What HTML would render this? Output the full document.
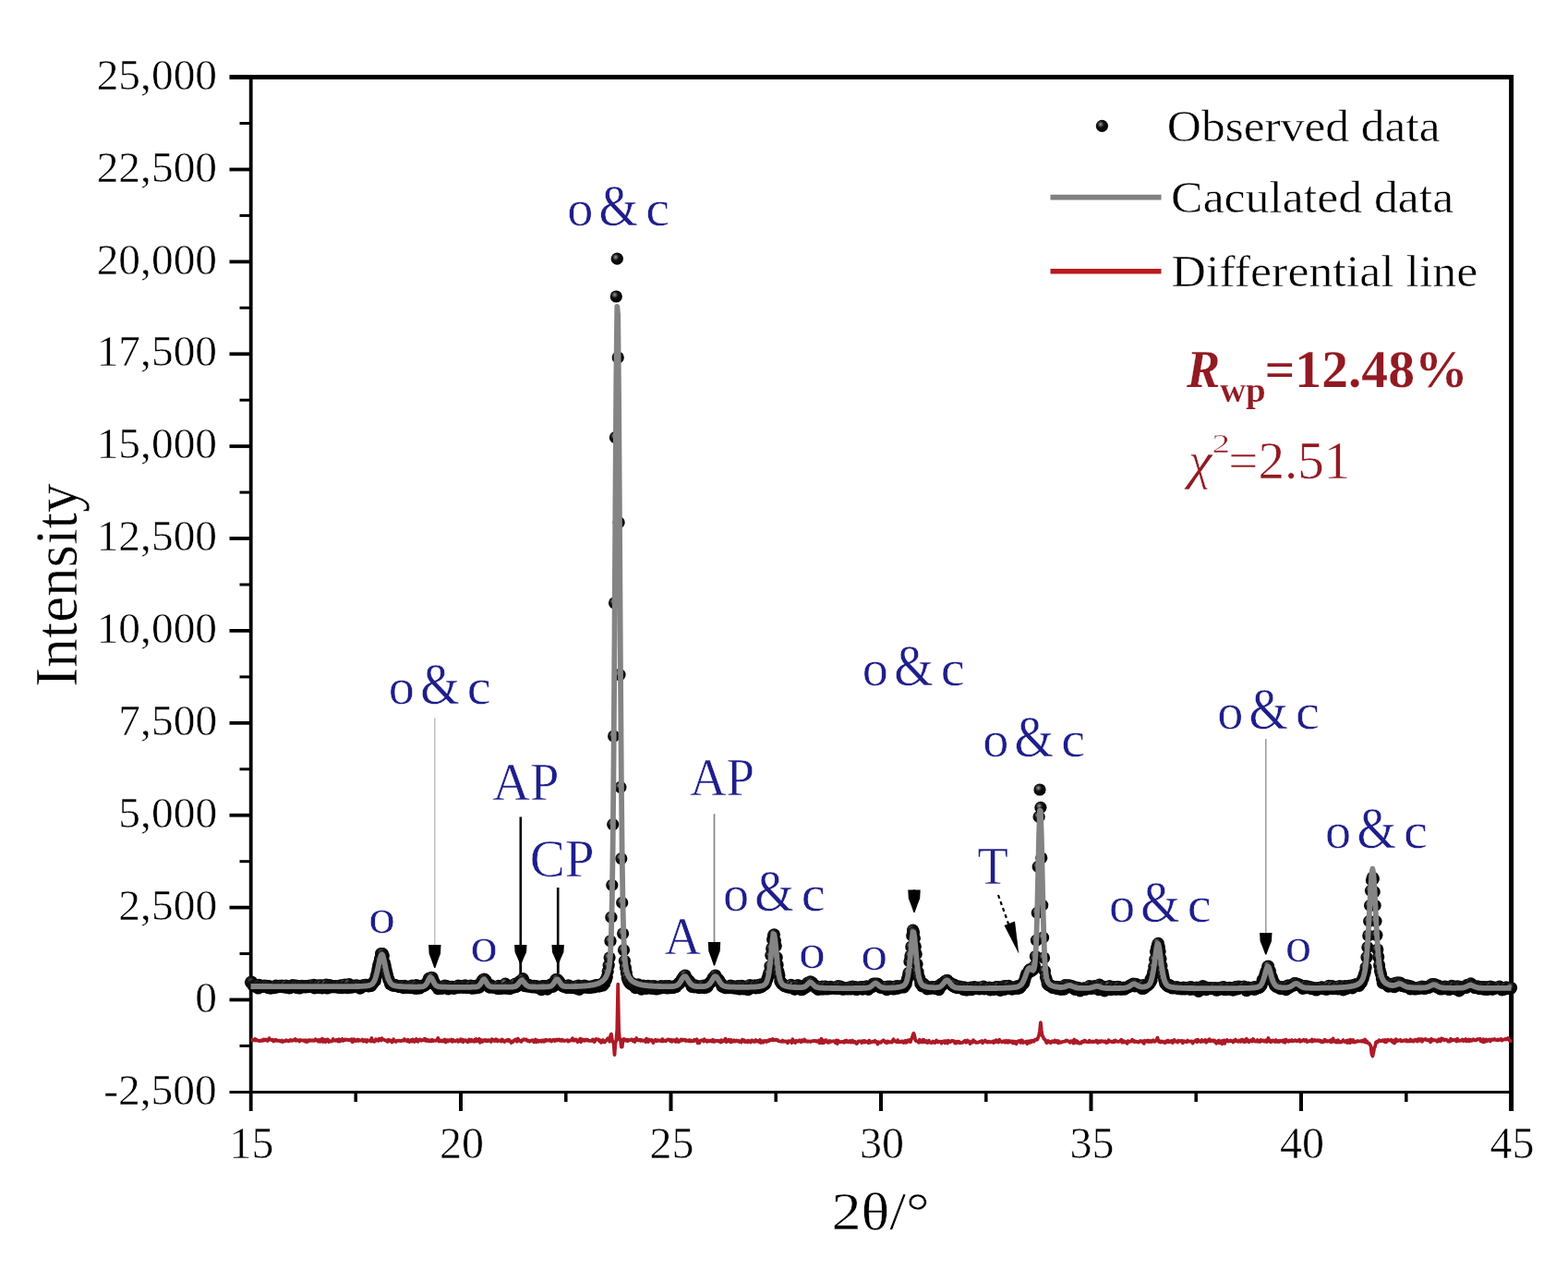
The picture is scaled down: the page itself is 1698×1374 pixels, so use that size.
<!DOCTYPE html>
<html><head><meta charset="utf-8"><title>XRD Rietveld refinement plot</title>
<style>html,body{margin:0;padding:0;background:#fff}svg{display:block}</style></head>
<body>
<div id="w">
<svg width="1698" height="1374" viewBox="0 0 1698 1374">
<rect width="1698" height="1374" fill="#fff"/>
<g stroke="#000" fill="none">
<line x1="271.7" y1="81.3" x2="271.7" y2="1203" stroke-width="3.8"/>
<line x1="1636.6" y1="81.3" x2="1636.6" y2="1203" stroke-width="5"/>
<line x1="248.5" y1="83.6" x2="1639.0" y2="83.6" stroke-width="5"/>
<line x1="248.5" y1="1182.4" x2="1636.5" y2="1182.4" stroke-width="3"/>
<line x1="259.5" y1="1132.4" x2="271.5" y2="1132.4" stroke-width="3"/>
<line x1="248.5" y1="1082.5" x2="271.5" y2="1082.5" stroke-width="3.8"/>
<line x1="259.5" y1="1032.6" x2="271.5" y2="1032.6" stroke-width="3"/>
<line x1="248.5" y1="982.6" x2="271.5" y2="982.6" stroke-width="3.8"/>
<line x1="259.5" y1="932.7" x2="271.5" y2="932.7" stroke-width="3"/>
<line x1="248.5" y1="882.7" x2="271.5" y2="882.7" stroke-width="3.8"/>
<line x1="259.5" y1="832.8" x2="271.5" y2="832.8" stroke-width="3"/>
<line x1="248.5" y1="782.8" x2="271.5" y2="782.8" stroke-width="3.8"/>
<line x1="259.5" y1="732.9" x2="271.5" y2="732.9" stroke-width="3"/>
<line x1="248.5" y1="682.9" x2="271.5" y2="682.9" stroke-width="3.8"/>
<line x1="259.5" y1="633.0" x2="271.5" y2="633.0" stroke-width="3"/>
<line x1="248.5" y1="583.0" x2="271.5" y2="583.0" stroke-width="3.8"/>
<line x1="259.5" y1="533.1" x2="271.5" y2="533.1" stroke-width="3"/>
<line x1="248.5" y1="483.2" x2="271.5" y2="483.2" stroke-width="3.8"/>
<line x1="259.5" y1="433.2" x2="271.5" y2="433.2" stroke-width="3"/>
<line x1="248.5" y1="383.3" x2="271.5" y2="383.3" stroke-width="3.8"/>
<line x1="259.5" y1="333.3" x2="271.5" y2="333.3" stroke-width="3"/>
<line x1="248.5" y1="283.4" x2="271.5" y2="283.4" stroke-width="3.8"/>
<line x1="259.5" y1="233.4" x2="271.5" y2="233.4" stroke-width="3"/>
<line x1="248.5" y1="183.5" x2="271.5" y2="183.5" stroke-width="3.8"/>
<line x1="259.5" y1="133.5" x2="271.5" y2="133.5" stroke-width="3"/>
<line x1="385.2" y1="1182.4" x2="385.2" y2="1193" stroke-width="3.5"/>
<line x1="499.0" y1="1182.4" x2="499.0" y2="1203" stroke-width="4"/>
<line x1="612.8" y1="1182.4" x2="612.8" y2="1193" stroke-width="3.5"/>
<line x1="726.5" y1="1182.4" x2="726.5" y2="1203" stroke-width="4"/>
<line x1="840.2" y1="1182.4" x2="840.2" y2="1193" stroke-width="3.5"/>
<line x1="954.0" y1="1182.4" x2="954.0" y2="1203" stroke-width="4"/>
<line x1="1067.8" y1="1182.4" x2="1067.8" y2="1193" stroke-width="3.5"/>
<line x1="1181.5" y1="1182.4" x2="1181.5" y2="1203" stroke-width="4"/>
<line x1="1295.2" y1="1182.4" x2="1295.2" y2="1193" stroke-width="3.5"/>
<line x1="1409.0" y1="1182.4" x2="1409.0" y2="1203" stroke-width="4"/>
<line x1="1522.8" y1="1182.4" x2="1522.8" y2="1193" stroke-width="3.5"/>
</g>
<polyline points="271.5,1126.2 272.4,1126.1 273.3,1125.8 274.2,1126.4 275.1,1126.3 276.1,1124.9 277.0,1126.5 277.9,1125.8 278.8,1126.4 279.7,1126.9 280.6,1126.9 281.5,1127.2 282.4,1126.4 283.3,1127.0 284.2,1126.8 285.2,1125.4 286.1,1126.6 287.0,1125.5 287.9,1126.2 288.8,1125.7 289.7,1127.0 290.6,1126.3 291.5,1124.1 292.4,1125.7 293.3,1125.6 294.2,1126.3 295.2,1125.7 296.1,1127.5 297.0,1127.2 297.9,1126.1 298.8,1125.7 299.7,1126.8 300.6,1126.6 301.5,1126.8 302.4,1126.6 303.3,1127.5 304.3,1127.7 305.2,1126.5 306.1,1128.0 307.0,1127.3 307.9,1127.1 308.8,1127.4 309.7,1126.3 310.6,1126.9 311.5,1126.6 312.5,1127.4 313.4,1127.1 314.3,1126.0 315.2,1126.2 316.1,1126.9 317.0,1126.2 317.9,1126.3 318.8,1126.4 319.7,1125.1 320.6,1126.8 321.6,1126.1 322.5,1126.1 323.4,1126.7 324.3,1127.5 325.2,1125.9 326.1,1126.3 327.0,1126.5 327.9,1126.5 328.8,1126.5 329.7,1127.3 330.7,1126.3 331.6,1128.1 332.5,1126.5 333.4,1127.8 334.3,1126.8 335.2,1125.9 336.1,1126.7 337.0,1126.9 337.9,1126.1 338.8,1126.8 339.8,1126.9 340.7,1126.9 341.6,1125.2 342.5,1125.9 343.4,1126.1 344.3,1127.6 345.2,1126.0 346.1,1127.7 347.0,1126.1 347.9,1127.5 348.8,1124.8 349.8,1128.0 350.7,1125.5 351.6,1125.8 352.5,1128.1 353.4,1126.8 354.3,1125.3 355.2,1125.5 356.1,1128.0 357.0,1127.0 357.9,1127.6 358.9,1127.4 359.8,1127.1 360.7,1124.9 361.6,1126.4 362.5,1126.7 363.4,1126.8 364.3,1126.0 365.2,1125.9 366.1,1127.4 367.1,1125.3 368.0,1127.5 368.9,1126.8 369.8,1126.2 370.7,1125.0 371.6,1126.9 372.5,1126.3 373.4,1125.4 374.3,1126.0 375.2,1125.6 376.2,1125.6 377.1,1126.3 378.0,1126.0 378.9,1125.8 379.8,1126.6 380.7,1125.2 381.6,1128.3 382.5,1127.4 383.4,1125.3 384.3,1126.2 385.2,1127.1 386.2,1126.2 387.1,1125.6 388.0,1127.1 388.9,1125.9 389.8,1126.7 390.7,1126.7 391.6,1126.6 392.5,1125.6 393.4,1127.5 394.3,1126.9 395.3,1126.0 396.2,1127.6 397.1,1128.0 398.0,1126.1 398.9,1126.6 399.8,1126.7 400.7,1126.4 401.6,1127.4 402.5,1124.0 403.4,1127.4 404.4,1126.9 405.3,1127.8 406.2,1126.9 407.1,1125.2 408.0,1126.6 408.9,1126.0 409.8,1126.9 410.7,1124.8 411.6,1125.8 412.6,1126.4 413.5,1124.3 414.4,1125.6 415.3,1125.4 416.2,1126.2 417.1,1126.3 418.0,1126.4 418.9,1127.4 419.8,1127.9 420.7,1125.7 421.7,1126.7 422.6,1126.3 423.5,1127.0 424.4,1128.4 425.3,1127.7 426.2,1125.3 427.1,1127.3 428.0,1126.9 428.9,1127.9 429.8,1127.0 430.8,1126.9 431.7,1126.8 432.6,1126.6 433.5,1127.1 434.4,1127.1 435.3,1126.6 436.2,1126.3 437.1,1126.7 438.0,1125.1 438.9,1126.4 439.8,1126.4 440.8,1127.2 441.7,1125.7 442.6,1127.5 443.5,1128.0 444.4,1127.4 445.3,1126.0 446.2,1127.6 447.1,1125.5 448.0,1126.6 448.9,1127.9 449.9,1126.8 450.8,1125.0 451.7,1127.3 452.6,1127.7 453.5,1126.1 454.4,1125.4 455.3,1125.7 456.2,1126.9 457.1,1126.4 458.1,1126.3 459.0,1125.6 459.9,1124.7 460.8,1126.7 461.7,1125.5 462.6,1126.9 463.5,1126.1 464.4,1127.4 465.3,1127.3 466.2,1126.2 467.2,1127.4 468.1,1125.8 469.0,1127.1 469.9,1126.5 470.8,1126.7 471.7,1126.9 472.6,1126.5 473.5,1125.7 474.4,1123.9 475.3,1127.6 476.2,1126.3 477.2,1126.8 478.1,1127.4 479.0,1126.4 479.9,1127.4 480.8,1126.7 481.7,1125.5 482.6,1128.4 483.5,1126.4 484.4,1126.2 485.3,1127.4 486.3,1126.1 487.2,1126.3 488.1,1126.9 489.0,1125.5 489.9,1127.8 490.8,1126.0 491.7,1126.8 492.6,1127.5 493.5,1126.8 494.4,1126.9 495.4,1125.9 496.3,1127.9 497.2,1126.8 498.1,1127.0 499.0,1125.2 499.9,1127.6 500.8,1125.7 501.7,1128.2 502.6,1126.3 503.6,1126.7 504.5,1126.3 505.4,1127.2 506.3,1128.3 507.2,1128.0 508.1,1125.5 509.0,1126.4 509.9,1127.4 510.8,1125.8 511.7,1127.3 512.7,1127.3 513.6,1127.7 514.5,1125.6 515.4,1124.9 516.3,1127.5 517.2,1126.4 518.1,1125.8 519.0,1124.8 519.9,1128.7 520.8,1126.5 521.8,1126.1 522.7,1127.9 523.6,1126.3 524.5,1126.5 525.4,1126.0 526.3,1127.2 527.2,1126.3 528.1,1127.2 529.0,1126.1 529.9,1126.5 530.8,1127.0 531.8,1127.9 532.7,1125.2 533.6,1125.7 534.5,1125.9 535.4,1127.2 536.3,1127.0 537.2,1125.2 538.1,1126.0 539.0,1127.4 539.9,1126.6 540.9,1126.5 541.8,1126.8 542.7,1127.5 543.6,1125.5 544.5,1126.1 545.4,1126.8 546.3,1128.0 547.2,1127.2 548.1,1126.7 549.1,1125.9 550.0,1127.0 550.9,1125.7 551.8,1126.5 552.7,1127.3 553.6,1129.1 554.5,1127.7 555.4,1128.0 556.3,1126.8 557.2,1126.4 558.2,1125.4 559.1,1126.7 560.0,1127.7 560.9,1124.6 561.8,1126.4 562.7,1126.9 563.6,1126.9 564.5,1127.8 565.4,1126.1 566.3,1126.3 567.2,1125.2 568.2,1125.7 569.1,1125.9 570.0,1125.5 570.9,1126.9 571.8,1127.0 572.7,1126.7 573.6,1127.7 574.5,1126.8 575.4,1126.9 576.3,1126.1 577.3,1126.7 578.2,1128.3 579.1,1126.6 580.0,1125.4 580.9,1128.3 581.8,1127.3 582.7,1126.6 583.6,1127.8 584.5,1127.1 585.4,1126.6 586.4,1127.8 587.3,1126.4 588.2,1126.3 589.1,1127.8 590.0,1126.6 590.9,1125.7 591.8,1126.8 592.7,1126.3 593.6,1126.1 594.6,1126.8 595.5,1125.8 596.4,1126.3 597.3,1127.5 598.2,1126.2 599.1,1125.9 600.0,1125.9 600.9,1127.2 601.8,1126.2 602.7,1125.4 603.7,1126.4 604.6,1125.6 605.5,1125.5 606.4,1126.7 607.3,1126.0 608.2,1126.9 609.1,1125.7 610.0,1126.7 610.9,1127.1 611.8,1126.6 612.8,1126.7 613.7,1126.3 614.6,1126.2 615.5,1127.6 616.4,1127.2 617.3,1126.3 618.2,1126.2 619.1,1126.5 620.0,1124.3 620.9,1125.6 621.8,1126.7 622.8,1126.0 623.7,1125.4 624.6,1126.3 625.5,1128.2 626.4,1126.5 627.3,1126.6 628.2,1124.7 629.1,1128.2 630.0,1125.3 630.9,1126.7 631.9,1125.8 632.8,1126.9 633.7,1126.5 634.6,1125.6 635.5,1126.5 636.4,1125.7 637.3,1126.7 638.2,1127.0 639.1,1126.8 640.1,1127.0 641.0,1126.7 641.9,1125.4 642.8,1127.6 643.7,1128.1 644.6,1126.6 645.5,1125.1 646.4,1125.7 647.3,1125.4 648.2,1125.5 649.2,1127.2 650.1,1126.5 651.0,1128.9 651.9,1127.1 652.8,1126.1 653.7,1128.0 654.6,1128.4 655.5,1127.7 656.4,1126.4 657.3,1125.6 658.2,1124.3 659.2,1125.3 660.1,1127.7 661.0,1121.8 661.9,1119.6 662.8,1125.4 663.7,1128.0 664.6,1130.0 665.5,1142.2 666.4,1129.5 667.3,1126.7 668.3,1114.7 669.2,1065.7 670.1,1115.0 671.0,1125.8 671.9,1125.0 672.8,1133.6 673.7,1133.6 674.6,1126.4 675.5,1124.9 676.4,1126.4 677.4,1125.6 678.3,1126.8 679.2,1125.8 680.1,1127.1 681.0,1126.0 681.9,1126.2 682.8,1126.2 683.7,1125.4 684.6,1125.6 685.6,1127.1 686.5,1125.8 687.4,1128.1 688.3,1125.7 689.2,1124.1 690.1,1126.1 691.0,1126.1 691.9,1126.5 692.8,1125.8 693.7,1126.9 694.7,1126.0 695.6,1126.8 696.5,1126.9 697.4,1126.4 698.3,1126.6 699.2,1128.1 700.1,1124.7 701.0,1126.4 701.9,1128.0 702.8,1125.6 703.8,1126.6 704.7,1126.4 705.6,1125.9 706.5,1127.3 707.4,1129.1 708.3,1126.6 709.2,1126.3 710.1,1125.7 711.0,1127.2 711.9,1126.8 712.8,1126.2 713.8,1126.8 714.7,1126.8 715.6,1126.3 716.5,1127.4 717.4,1125.1 718.3,1127.3 719.2,1126.5 720.1,1126.8 721.0,1127.2 721.9,1126.1 722.9,1125.7 723.8,1125.3 724.7,1126.0 725.6,1126.9 726.5,1125.8 727.4,1127.8 728.3,1126.5 729.2,1126.1 730.1,1126.1 731.1,1127.6 732.0,1127.9 732.9,1125.1 733.8,1127.0 734.7,1128.1 735.6,1127.7 736.5,1126.6 737.4,1125.6 738.3,1126.6 739.2,1125.6 740.2,1126.4 741.1,1126.2 742.0,1125.8 742.9,1127.0 743.8,1126.4 744.7,1127.0 745.6,1127.2 746.5,1126.1 747.4,1127.4 748.3,1126.6 749.2,1127.4 750.2,1126.8 751.1,1127.2 752.0,1125.8 752.9,1126.7 753.8,1126.7 754.7,1125.3 755.6,1129.3 756.5,1127.8 757.4,1129.2 758.3,1126.8 759.3,1126.4 760.2,1126.2 761.1,1126.6 762.0,1127.6 762.9,1125.3 763.8,1126.6 764.7,1127.1 765.6,1127.8 766.5,1126.5 767.4,1127.3 768.4,1127.3 769.3,1126.7 770.2,1126.7 771.1,1127.6 772.0,1125.8 772.9,1127.8 773.8,1127.9 774.7,1126.7 775.6,1126.8 776.6,1126.9 777.5,1127.3 778.4,1126.9 779.3,1127.4 780.2,1128.4 781.1,1126.3 782.0,1127.9 782.9,1127.2 783.8,1126.3 784.7,1127.0 785.6,1124.6 786.6,1128.2 787.5,1127.7 788.4,1126.9 789.3,1125.8 790.2,1127.2 791.1,1128.3 792.0,1126.0 792.9,1127.9 793.8,1127.2 794.8,1126.3 795.7,1127.7 796.6,1127.5 797.5,1126.6 798.4,1127.3 799.3,1126.8 800.2,1127.9 801.1,1127.2 802.0,1128.1 802.9,1128.5 803.9,1125.6 804.8,1126.7 805.7,1126.3 806.6,1128.0 807.5,1127.2 808.4,1127.3 809.3,1128.4 810.2,1126.7 811.1,1127.8 812.0,1127.4 812.9,1128.5 813.9,1126.3 814.8,1126.5 815.7,1126.9 816.6,1128.0 817.5,1127.7 818.4,1126.1 819.3,1127.5 820.2,1127.0 821.1,1127.1 822.1,1128.2 823.0,1125.9 823.9,1129.0 824.8,1127.1 825.7,1127.3 826.6,1128.7 827.5,1127.0 828.4,1126.8 829.3,1127.2 830.2,1128.0 831.1,1126.9 832.1,1126.3 833.0,1127.1 833.9,1125.7 834.8,1126.2 835.7,1125.9 836.6,1124.9 837.5,1126.4 838.4,1126.2 839.3,1125.7 840.2,1126.2 841.2,1125.7 842.1,1126.2 843.0,1127.2 843.9,1127.2 844.8,1127.6 845.7,1127.7 846.6,1127.8 847.5,1126.6 848.4,1127.8 849.4,1127.7 850.3,1127.3 851.2,1127.9 852.1,1127.6 853.0,1129.3 853.9,1127.1 854.8,1127.7 855.7,1127.3 856.6,1127.1 857.5,1129.1 858.4,1125.3 859.4,1127.3 860.3,1127.3 861.2,1129.0 862.1,1126.9 863.0,1127.1 863.9,1127.7 864.8,1127.2 865.7,1126.3 866.6,1127.7 867.6,1128.2 868.5,1126.2 869.4,1127.2 870.3,1127.6 871.2,1125.4 872.1,1127.3 873.0,1127.6 873.9,1127.2 874.8,1127.8 875.7,1127.3 876.6,1127.3 877.6,1128.0 878.5,1127.7 879.4,1127.2 880.3,1127.1 881.2,1127.0 882.1,1126.8 883.0,1127.3 883.9,1127.0 884.8,1127.8 885.8,1127.7 886.7,1126.6 887.6,1129.3 888.5,1127.2 889.4,1124.8 890.3,1129.2 891.2,1126.2 892.1,1129.1 893.0,1127.3 893.9,1126.2 894.9,1126.3 895.8,1128.4 896.7,1128.8 897.6,1128.9 898.5,1127.0 899.4,1128.0 900.3,1127.7 901.2,1127.4 902.1,1127.3 903.0,1127.2 903.9,1127.6 904.9,1129.1 905.8,1126.4 906.7,1130.1 907.6,1126.6 908.5,1128.3 909.4,1127.9 910.3,1128.2 911.2,1128.1 912.1,1127.8 913.1,1128.0 914.0,1128.7 914.9,1127.0 915.8,1128.3 916.7,1126.6 917.6,1127.9 918.5,1128.4 919.4,1127.4 920.3,1127.0 921.2,1128.6 922.1,1128.1 923.1,1126.6 924.0,1128.7 924.9,1128.6 925.8,1127.7 926.7,1128.9 927.6,1130.0 928.5,1129.3 929.4,1127.5 930.3,1127.3 931.2,1127.4 932.2,1127.5 933.1,1129.0 934.0,1127.3 934.9,1126.9 935.8,1128.5 936.7,1127.1 937.6,1128.2 938.5,1127.8 939.4,1127.6 940.4,1129.2 941.3,1126.6 942.2,1128.7 943.1,1128.0 944.0,1128.4 944.9,1127.6 945.8,1127.6 946.7,1128.0 947.6,1126.7 948.5,1127.7 949.4,1128.3 950.4,1130.5 951.3,1128.2 952.2,1128.3 953.1,1128.8 954.0,1128.8 954.9,1127.5 955.8,1127.1 956.7,1126.3 957.6,1127.0 958.6,1128.6 959.5,1127.8 960.4,1129.2 961.3,1127.4 962.2,1127.7 963.1,1128.5 964.0,1128.1 964.9,1128.2 965.8,1128.6 966.7,1126.8 967.6,1125.3 968.6,1127.3 969.5,1127.1 970.4,1127.9 971.3,1128.3 972.2,1126.1 973.1,1128.3 974.0,1127.6 974.9,1128.1 975.8,1127.5 976.8,1128.0 977.7,1127.5 978.6,1129.1 979.5,1128.1 980.4,1126.8 981.3,1128.8 982.2,1128.4 983.1,1126.4 984.0,1127.0 984.9,1125.9 985.9,1128.1 986.8,1125.1 987.7,1124.0 988.6,1120.4 989.5,1118.8 990.4,1121.8 991.3,1126.5 992.2,1127.1 993.1,1127.3 994.0,1127.4 994.9,1128.8 995.9,1125.8 996.8,1127.4 997.7,1128.3 998.6,1128.4 999.5,1125.9 1000.4,1126.0 1001.3,1128.4 1002.2,1127.7 1003.1,1126.9 1004.1,1129.0 1005.0,1128.5 1005.9,1126.8 1006.8,1128.6 1007.7,1128.4 1008.6,1129.2 1009.5,1128.6 1010.4,1127.4 1011.3,1128.7 1012.2,1129.1 1013.1,1128.5 1014.1,1126.4 1015.0,1127.8 1015.9,1128.5 1016.8,1127.8 1017.7,1127.6 1018.6,1127.9 1019.5,1129.6 1020.4,1127.7 1021.3,1128.2 1022.2,1127.2 1023.2,1129.2 1024.1,1127.1 1025.0,1128.4 1025.9,1129.5 1026.8,1126.8 1027.7,1128.4 1028.6,1127.6 1029.5,1128.1 1030.4,1127.0 1031.3,1127.0 1032.3,1127.0 1033.2,1127.3 1034.1,1129.4 1035.0,1129.5 1035.9,1127.8 1036.8,1128.8 1037.7,1127.6 1038.6,1127.8 1039.5,1129.2 1040.4,1128.9 1041.4,1129.0 1042.3,1128.8 1043.2,1128.2 1044.1,1127.4 1045.0,1126.8 1045.9,1128.8 1046.8,1128.5 1047.7,1126.6 1048.6,1127.2 1049.6,1127.8 1050.5,1130.0 1051.4,1128.9 1052.3,1127.8 1053.2,1128.5 1054.1,1126.2 1055.0,1127.9 1055.9,1127.7 1056.8,1128.9 1057.7,1128.9 1058.6,1128.6 1059.6,1128.5 1060.5,1128.2 1061.4,1127.6 1062.3,1127.7 1063.2,1127.1 1064.1,1129.2 1065.0,1127.8 1065.9,1127.7 1066.8,1126.5 1067.8,1128.1 1068.7,1127.7 1069.6,1128.7 1070.5,1127.6 1071.4,1127.6 1072.3,1128.5 1073.2,1128.3 1074.1,1128.0 1075.0,1127.4 1075.9,1129.0 1076.9,1127.2 1077.8,1128.2 1078.7,1126.3 1079.6,1126.6 1080.5,1128.3 1081.4,1128.5 1082.3,1125.8 1083.2,1127.4 1084.1,1127.4 1085.0,1128.3 1085.9,1128.1 1086.9,1127.2 1087.8,1127.4 1088.7,1128.7 1089.6,1126.8 1090.5,1127.7 1091.4,1128.8 1092.3,1127.0 1093.2,1128.1 1094.1,1127.2 1095.1,1128.4 1096.0,1127.6 1096.9,1129.4 1097.8,1127.6 1098.7,1129.3 1099.6,1127.8 1100.5,1130.2 1101.4,1128.0 1102.3,1127.3 1103.2,1127.5 1104.1,1126.9 1105.1,1128.9 1106.0,1126.5 1106.9,1126.5 1107.8,1129.0 1108.7,1128.6 1109.6,1128.4 1110.5,1127.9 1111.4,1127.7 1112.3,1130.1 1113.2,1127.4 1114.2,1128.1 1115.1,1128.8 1116.0,1127.0 1116.9,1128.2 1117.8,1126.8 1118.7,1127.2 1119.6,1127.7 1120.5,1125.9 1121.4,1125.5 1122.4,1125.8 1123.3,1125.6 1124.2,1123.4 1125.1,1120.9 1126.0,1116.3 1126.9,1107.2 1127.8,1115.8 1128.7,1121.3 1129.6,1122.6 1130.5,1124.9 1131.4,1125.4 1132.4,1126.8 1133.3,1129.0 1134.2,1128.9 1135.1,1127.0 1136.0,1128.2 1136.9,1128.0 1137.8,1129.2 1138.7,1128.4 1139.6,1127.2 1140.6,1127.8 1141.5,1128.3 1142.4,1126.5 1143.3,1127.9 1144.2,1128.2 1145.1,1126.9 1146.0,1129.4 1146.9,1127.4 1147.8,1128.9 1148.7,1128.6 1149.6,1128.5 1150.6,1127.8 1151.5,1127.8 1152.4,1127.6 1153.3,1127.7 1154.2,1126.6 1155.1,1126.4 1156.0,1127.2 1156.9,1127.2 1157.8,1128.2 1158.8,1128.8 1159.7,1127.3 1160.6,1127.8 1161.5,1127.1 1162.4,1129.5 1163.3,1125.5 1164.2,1129.0 1165.1,1127.8 1166.0,1127.0 1166.9,1129.1 1167.9,1128.4 1168.8,1129.7 1169.7,1129.1 1170.6,1129.6 1171.5,1127.8 1172.4,1127.6 1173.3,1128.1 1174.2,1126.7 1175.1,1126.6 1176.0,1127.9 1176.9,1128.1 1177.9,1128.1 1178.8,1128.3 1179.7,1126.7 1180.6,1127.6 1181.5,1128.1 1182.4,1128.0 1183.3,1127.4 1184.2,1128.2 1185.1,1127.6 1186.1,1127.9 1187.0,1126.6 1187.9,1126.8 1188.8,1129.1 1189.7,1128.0 1190.6,1127.2 1191.5,1128.2 1192.4,1127.1 1193.3,1127.5 1194.2,1127.3 1195.1,1127.9 1196.1,1127.5 1197.0,1127.3 1197.9,1129.1 1198.8,1128.6 1199.7,1128.7 1200.6,1126.3 1201.5,1127.5 1202.4,1127.5 1203.3,1127.6 1204.2,1128.2 1205.2,1128.4 1206.1,1127.0 1207.0,1128.1 1207.9,1126.4 1208.8,1127.6 1209.7,1127.7 1210.6,1127.9 1211.5,1127.8 1212.4,1127.7 1213.4,1126.4 1214.3,1125.7 1215.2,1128.8 1216.1,1127.5 1217.0,1127.1 1217.9,1128.5 1218.8,1128.3 1219.7,1128.1 1220.6,1129.8 1221.5,1127.1 1222.4,1127.8 1223.4,1127.8 1224.3,1127.6 1225.2,1127.5 1226.1,1125.7 1227.0,1127.5 1227.9,1127.0 1228.8,1128.2 1229.7,1127.4 1230.6,1128.0 1231.6,1127.8 1232.5,1128.5 1233.4,1128.4 1234.3,1127.3 1235.2,1127.0 1236.1,1127.3 1237.0,1128.3 1237.9,1127.4 1238.8,1129.9 1239.7,1126.8 1240.6,1127.7 1241.6,1127.4 1242.5,1126.6 1243.4,1128.0 1244.3,1126.8 1245.2,1128.0 1246.1,1127.1 1247.0,1128.0 1247.9,1127.3 1248.8,1126.2 1249.8,1127.9 1250.7,1127.6 1251.6,1126.9 1252.5,1126.0 1253.4,1123.6 1254.3,1126.5 1255.2,1128.1 1256.1,1127.2 1257.0,1128.4 1257.9,1127.8 1258.9,1127.4 1259.8,1128.4 1260.7,1128.2 1261.6,1129.2 1262.5,1127.4 1263.4,1128.2 1264.3,1126.6 1265.2,1126.6 1266.1,1128.3 1267.0,1127.9 1267.9,1127.5 1268.9,1126.9 1269.8,1129.0 1270.7,1127.6 1271.6,1125.9 1272.5,1127.6 1273.4,1127.3 1274.3,1127.5 1275.2,1128.6 1276.1,1126.7 1277.1,1127.3 1278.0,1127.4 1278.9,1126.9 1279.8,1126.8 1280.7,1129.2 1281.6,1127.1 1282.5,1128.0 1283.4,1127.4 1284.3,1128.1 1285.2,1128.2 1286.1,1126.6 1287.1,1127.5 1288.0,1127.7 1288.9,1127.7 1289.8,1127.4 1290.7,1127.5 1291.6,1129.5 1292.5,1128.2 1293.4,1127.7 1294.3,1126.8 1295.2,1126.2 1296.2,1128.3 1297.1,1125.7 1298.0,1127.3 1298.9,1127.0 1299.8,1127.9 1300.7,1128.0 1301.6,1126.1 1302.5,1127.6 1303.4,1127.5 1304.4,1126.4 1305.3,1125.9 1306.2,1128.7 1307.1,1127.6 1308.0,1127.4 1308.9,1125.8 1309.8,1125.2 1310.7,1127.4 1311.6,1127.0 1312.5,1126.6 1313.5,1126.3 1314.4,1127.6 1315.3,1126.6 1316.2,1128.0 1317.1,1129.7 1318.0,1128.6 1318.9,1127.1 1319.8,1126.6 1320.7,1129.3 1321.6,1128.9 1322.5,1127.3 1323.5,1130.3 1324.4,1126.8 1325.3,1126.4 1326.2,1129.9 1327.1,1126.6 1328.0,1127.5 1328.9,1126.0 1329.8,1127.0 1330.7,1127.5 1331.6,1127.2 1332.6,1126.4 1333.5,1127.1 1334.4,1127.2 1335.3,1128.5 1336.2,1126.8 1337.1,1127.2 1338.0,1125.6 1338.9,1127.2 1339.8,1127.3 1340.8,1127.8 1341.7,1126.6 1342.6,1127.4 1343.5,1127.8 1344.4,1125.8 1345.3,1125.6 1346.2,1127.6 1347.1,1128.1 1348.0,1126.2 1348.9,1127.9 1349.9,1124.7 1350.8,1127.3 1351.7,1126.3 1352.6,1128.3 1353.5,1127.2 1354.4,1126.2 1355.3,1126.8 1356.2,1127.6 1357.1,1125.0 1358.0,1126.5 1359.0,1127.4 1359.9,1127.7 1360.8,1127.4 1361.7,1126.0 1362.6,1127.8 1363.5,1127.1 1364.4,1127.9 1365.3,1126.0 1366.2,1127.3 1367.1,1126.4 1368.0,1126.6 1369.0,1127.6 1369.9,1126.5 1370.8,1126.3 1371.7,1128.1 1372.6,1126.5 1373.5,1124.0 1374.4,1127.4 1375.3,1126.5 1376.2,1128.3 1377.1,1126.7 1378.1,1127.6 1379.0,1126.4 1379.9,1127.1 1380.8,1128.1 1381.7,1126.1 1382.6,1127.3 1383.5,1128.0 1384.4,1127.0 1385.3,1127.9 1386.2,1126.7 1387.2,1127.1 1388.1,1127.4 1389.0,1126.5 1389.9,1128.2 1390.8,1126.2 1391.7,1128.8 1392.6,1125.6 1393.5,1126.9 1394.4,1127.3 1395.4,1127.7 1396.3,1126.6 1397.2,1127.2 1398.1,1127.2 1399.0,1126.1 1399.9,1127.4 1400.8,1127.2 1401.7,1126.6 1402.6,1126.1 1403.5,1127.1 1404.5,1126.9 1405.4,1127.0 1406.3,1126.3 1407.2,1125.7 1408.1,1127.8 1409.0,1127.1 1409.9,1127.0 1410.8,1126.5 1411.7,1125.7 1412.6,1127.0 1413.5,1126.8 1414.5,1126.0 1415.4,1128.1 1416.3,1127.7 1417.2,1127.4 1418.1,1127.0 1419.0,1126.8 1419.9,1127.4 1420.8,1125.4 1421.7,1127.6 1422.6,1127.1 1423.6,1126.0 1424.5,1126.3 1425.4,1127.0 1426.3,1126.6 1427.2,1126.2 1428.1,1127.0 1429.0,1126.4 1429.9,1127.8 1430.8,1126.9 1431.8,1128.4 1432.7,1127.7 1433.6,1127.9 1434.5,1125.8 1435.4,1127.3 1436.3,1126.7 1437.2,1127.7 1438.1,1127.1 1439.0,1127.2 1439.9,1127.7 1440.9,1126.2 1441.8,1128.4 1442.7,1126.4 1443.6,1124.5 1444.5,1127.6 1445.4,1126.9 1446.3,1128.3 1447.2,1126.9 1448.1,1128.5 1449.0,1126.3 1450.0,1127.3 1450.9,1128.6 1451.8,1128.1 1452.7,1128.3 1453.6,1127.2 1454.5,1126.1 1455.4,1127.3 1456.3,1128.0 1457.2,1127.7 1458.1,1126.8 1459.0,1129.1 1460.0,1126.4 1460.9,1126.5 1461.8,1129.1 1462.7,1125.8 1463.6,1128.4 1464.5,1127.1 1465.4,1125.9 1466.3,1128.4 1467.2,1128.6 1468.1,1127.9 1469.1,1127.9 1470.0,1127.0 1470.9,1127.4 1471.8,1127.3 1472.7,1127.3 1473.6,1127.1 1474.5,1127.7 1475.4,1126.6 1476.3,1126.9 1477.2,1127.9 1478.2,1125.5 1479.1,1128.6 1480.0,1127.2 1480.9,1129.2 1481.8,1129.1 1482.7,1130.1 1483.6,1131.1 1484.5,1132.7 1485.4,1141.0 1486.4,1143.5 1487.3,1139.9 1488.2,1134.7 1489.1,1133.1 1490.0,1128.5 1490.9,1127.9 1491.8,1128.5 1492.7,1127.1 1493.6,1126.2 1494.5,1127.0 1495.5,1127.3 1496.4,1126.9 1497.3,1126.1 1498.2,1126.8 1499.1,1127.9 1500.0,1126.1 1500.9,1128.3 1501.8,1127.4 1502.7,1125.7 1503.6,1126.5 1504.5,1126.5 1505.5,1126.6 1506.4,1125.8 1507.3,1126.8 1508.2,1128.5 1509.1,1126.5 1510.0,1129.5 1510.9,1128.5 1511.8,1125.3 1512.7,1125.8 1513.6,1127.1 1514.6,1126.7 1515.5,1126.6 1516.4,1125.8 1517.3,1127.4 1518.2,1127.4 1519.1,1127.2 1520.0,1126.5 1520.9,1126.4 1521.8,1127.0 1522.8,1125.9 1523.7,1127.5 1524.6,1126.7 1525.5,1127.2 1526.4,1127.5 1527.3,1125.5 1528.2,1126.9 1529.1,1127.5 1530.0,1126.5 1530.9,1127.5 1531.9,1126.0 1532.8,1125.8 1533.7,1125.6 1534.6,1127.5 1535.5,1126.7 1536.4,1124.9 1537.3,1126.7 1538.2,1125.4 1539.1,1125.1 1540.0,1127.7 1541.0,1125.4 1541.9,1125.8 1542.8,1125.7 1543.7,1124.9 1544.6,1126.0 1545.5,1126.4 1546.4,1125.9 1547.3,1126.7 1548.2,1126.0 1549.1,1128.2 1550.0,1124.9 1551.0,1126.9 1551.9,1125.9 1552.8,1126.1 1553.7,1126.3 1554.6,1126.3 1555.5,1126.3 1556.4,1127.8 1557.3,1126.9 1558.2,1125.3 1559.1,1127.3 1560.1,1127.3 1561.0,1124.4 1561.9,1125.2 1562.8,1124.9 1563.7,1126.3 1564.6,1126.1 1565.5,1125.6 1566.4,1125.8 1567.3,1126.4 1568.2,1127.6 1569.2,1126.9 1570.1,1127.6 1571.0,1124.9 1571.9,1126.6 1572.8,1126.4 1573.7,1126.0 1574.6,1126.2 1575.5,1125.8 1576.4,1126.8 1577.4,1127.6 1578.3,1124.7 1579.2,1126.9 1580.1,1126.6 1581.0,1126.9 1581.9,1126.7 1582.8,1126.2 1583.7,1125.5 1584.6,1127.1 1585.5,1125.9 1586.5,1126.8 1587.4,1125.1 1588.3,1127.3 1589.2,1126.1 1590.1,1125.5 1591.0,1127.4 1591.9,1126.0 1592.8,1126.0 1593.7,1126.8 1594.6,1126.3 1595.5,1125.2 1596.5,1125.9 1597.4,1126.5 1598.3,1126.3 1599.2,1125.7 1600.1,1125.0 1601.0,1125.4 1601.9,1125.4 1602.8,1124.7 1603.7,1127.4 1604.6,1127.3 1605.6,1128.1 1606.5,1125.3 1607.4,1128.1 1608.3,1126.1 1609.2,1125.4 1610.1,1127.3 1611.0,1126.6 1611.9,1126.3 1612.8,1125.4 1613.8,1127.4 1614.7,1125.7 1615.6,1125.4 1616.5,1125.9 1617.4,1125.8 1618.3,1124.9 1619.2,1125.8 1620.1,1126.0 1621.0,1126.3 1621.9,1125.4 1622.9,1126.2 1623.8,1125.4 1624.7,1125.8 1625.6,1124.9 1626.5,1126.6 1627.4,1125.8 1628.3,1125.6 1629.2,1125.5 1630.1,1124.9 1631.0,1125.5 1632.0,1125.1 1632.9,1124.1 1633.8,1125.1 1634.7,1126.8 1635.6,1127.1 1636.5,1125.3" fill="none" stroke="#ad1a28" stroke-width="3.8" stroke-linejoin="round"/>
<defs><radialGradient id="bg" cx="0.38" cy="0.36" r="0.6"><stop offset="0" stop-color="#9a9a9a"/><stop offset="0.45" stop-color="#111"/><stop offset="1" stop-color="#000"/></radialGradient><circle id="d" r="6.6" fill="url(#bg)"/></defs>
<g><use href="#d" x="271.5" y="1063.6"/><use href="#d" x="272.4" y="1063.0"/><use href="#d" x="273.3" y="1064.3"/><use href="#d" x="274.2" y="1067.0"/><use href="#d" x="275.1" y="1067.5"/><use href="#d" x="276.1" y="1068.2"/><use href="#d" x="277.0" y="1067.4"/><use href="#d" x="277.9" y="1068.1"/><use href="#d" x="278.8" y="1067.3"/><use href="#d" x="279.7" y="1070.0"/><use href="#d" x="280.6" y="1066.4"/><use href="#d" x="281.5" y="1068.1"/><use href="#d" x="282.4" y="1067.3"/><use href="#d" x="283.3" y="1068.2"/><use href="#d" x="284.2" y="1068.4"/><use href="#d" x="285.2" y="1067.6"/><use href="#d" x="286.1" y="1067.2"/><use href="#d" x="287.0" y="1068.3"/><use href="#d" x="287.9" y="1068.2"/><use href="#d" x="288.8" y="1067.3"/><use href="#d" x="289.7" y="1069.0"/><use href="#d" x="290.6" y="1069.6"/><use href="#d" x="291.5" y="1067.6"/><use href="#d" x="292.4" y="1068.8"/><use href="#d" x="293.3" y="1070.1"/><use href="#d" x="294.2" y="1068.9"/><use href="#d" x="295.2" y="1068.6"/><use href="#d" x="296.1" y="1069.3"/><use href="#d" x="297.0" y="1069.6"/><use href="#d" x="297.9" y="1068.0"/><use href="#d" x="298.8" y="1067.1"/><use href="#d" x="299.7" y="1068.3"/><use href="#d" x="300.6" y="1068.9"/><use href="#d" x="301.5" y="1067.7"/><use href="#d" x="302.4" y="1067.3"/><use href="#d" x="303.3" y="1068.4"/><use href="#d" x="304.3" y="1067.5"/><use href="#d" x="305.2" y="1067.0"/><use href="#d" x="306.1" y="1068.3"/><use href="#d" x="307.0" y="1068.9"/><use href="#d" x="307.9" y="1067.7"/><use href="#d" x="308.8" y="1067.8"/><use href="#d" x="309.7" y="1067.0"/><use href="#d" x="310.6" y="1069.4"/><use href="#d" x="311.5" y="1068.8"/><use href="#d" x="312.5" y="1069.0"/><use href="#d" x="313.4" y="1069.9"/><use href="#d" x="314.3" y="1068.0"/><use href="#d" x="315.2" y="1067.6"/><use href="#d" x="316.1" y="1068.9"/><use href="#d" x="317.0" y="1066.7"/><use href="#d" x="317.9" y="1067.3"/><use href="#d" x="318.8" y="1067.5"/><use href="#d" x="319.7" y="1067.7"/><use href="#d" x="320.6" y="1067.1"/><use href="#d" x="321.6" y="1069.5"/><use href="#d" x="322.5" y="1067.5"/><use href="#d" x="323.4" y="1067.5"/><use href="#d" x="324.3" y="1070.0"/><use href="#d" x="325.2" y="1067.8"/><use href="#d" x="326.1" y="1068.4"/><use href="#d" x="327.0" y="1067.3"/><use href="#d" x="327.9" y="1068.6"/><use href="#d" x="328.8" y="1068.2"/><use href="#d" x="329.7" y="1067.8"/><use href="#d" x="330.7" y="1069.0"/><use href="#d" x="331.6" y="1067.5"/><use href="#d" x="332.5" y="1068.2"/><use href="#d" x="333.4" y="1067.6"/><use href="#d" x="334.3" y="1068.7"/><use href="#d" x="335.2" y="1067.0"/><use href="#d" x="336.1" y="1067.5"/><use href="#d" x="337.0" y="1068.3"/><use href="#d" x="337.9" y="1067.5"/><use href="#d" x="338.8" y="1066.8"/><use href="#d" x="339.8" y="1066.3"/><use href="#d" x="340.7" y="1069.8"/><use href="#d" x="341.6" y="1067.2"/><use href="#d" x="342.5" y="1067.7"/><use href="#d" x="343.4" y="1068.2"/><use href="#d" x="344.3" y="1069.2"/><use href="#d" x="345.2" y="1066.8"/><use href="#d" x="346.1" y="1069.5"/><use href="#d" x="347.0" y="1067.6"/><use href="#d" x="347.9" y="1066.8"/><use href="#d" x="348.8" y="1069.8"/><use href="#d" x="349.8" y="1068.5"/><use href="#d" x="350.7" y="1069.5"/><use href="#d" x="351.6" y="1067.9"/><use href="#d" x="352.5" y="1066.6"/><use href="#d" x="353.4" y="1066.0"/><use href="#d" x="354.3" y="1070.0"/><use href="#d" x="355.2" y="1068.7"/><use href="#d" x="356.1" y="1067.4"/><use href="#d" x="357.0" y="1066.5"/><use href="#d" x="357.9" y="1067.7"/><use href="#d" x="358.9" y="1068.9"/><use href="#d" x="359.8" y="1067.8"/><use href="#d" x="360.7" y="1068.2"/><use href="#d" x="361.6" y="1068.4"/><use href="#d" x="362.5" y="1068.9"/><use href="#d" x="363.4" y="1067.7"/><use href="#d" x="364.3" y="1067.8"/><use href="#d" x="365.2" y="1068.2"/><use href="#d" x="366.1" y="1068.4"/><use href="#d" x="367.1" y="1069.5"/><use href="#d" x="368.0" y="1068.7"/><use href="#d" x="368.9" y="1066.9"/><use href="#d" x="369.8" y="1068.4"/><use href="#d" x="370.7" y="1069.7"/><use href="#d" x="371.6" y="1066.8"/><use href="#d" x="372.5" y="1067.6"/><use href="#d" x="373.4" y="1066.0"/><use href="#d" x="374.3" y="1068.1"/><use href="#d" x="375.2" y="1068.6"/><use href="#d" x="376.2" y="1069.7"/><use href="#d" x="377.1" y="1066.8"/><use href="#d" x="378.0" y="1065.5"/><use href="#d" x="378.9" y="1069.0"/><use href="#d" x="379.8" y="1068.8"/><use href="#d" x="380.7" y="1067.5"/><use href="#d" x="381.6" y="1069.0"/><use href="#d" x="382.5" y="1068.4"/><use href="#d" x="383.4" y="1068.5"/><use href="#d" x="384.3" y="1067.9"/><use href="#d" x="385.2" y="1066.9"/><use href="#d" x="386.2" y="1068.0"/><use href="#d" x="387.1" y="1067.1"/><use href="#d" x="388.0" y="1068.4"/><use href="#d" x="388.9" y="1067.6"/><use href="#d" x="389.8" y="1070.2"/><use href="#d" x="390.7" y="1069.4"/><use href="#d" x="391.6" y="1067.0"/><use href="#d" x="392.5" y="1068.4"/><use href="#d" x="393.4" y="1067.2"/><use href="#d" x="394.3" y="1067.1"/><use href="#d" x="395.3" y="1066.3"/><use href="#d" x="396.2" y="1066.7"/><use href="#d" x="397.1" y="1066.4"/><use href="#d" x="398.0" y="1067.4"/><use href="#d" x="398.9" y="1067.9"/><use href="#d" x="399.8" y="1067.7"/><use href="#d" x="400.7" y="1067.2"/><use href="#d" x="401.6" y="1067.5"/><use href="#d" x="402.5" y="1066.3"/><use href="#d" x="403.4" y="1065.1"/><use href="#d" x="404.4" y="1063.6"/><use href="#d" x="405.3" y="1062.7"/><use href="#d" x="406.2" y="1062.2"/><use href="#d" x="407.1" y="1057.5"/><use href="#d" x="408.0" y="1053.8"/><use href="#d" x="408.9" y="1048.9"/><use href="#d" x="409.8" y="1045.1"/><use href="#d" x="410.7" y="1041.9"/><use href="#d" x="411.6" y="1038.1"/><use href="#d" x="412.6" y="1032.5"/><use href="#d" x="413.5" y="1032.7"/><use href="#d" x="414.4" y="1032.7"/><use href="#d" x="415.3" y="1035.1"/><use href="#d" x="416.2" y="1042.1"/><use href="#d" x="417.1" y="1045.3"/><use href="#d" x="418.0" y="1049.6"/><use href="#d" x="418.9" y="1053.5"/><use href="#d" x="419.8" y="1057.0"/><use href="#d" x="420.7" y="1060.1"/><use href="#d" x="421.7" y="1062.3"/><use href="#d" x="422.6" y="1065.6"/><use href="#d" x="423.5" y="1065.3"/><use href="#d" x="424.4" y="1066.7"/><use href="#d" x="425.3" y="1066.4"/><use href="#d" x="426.2" y="1067.4"/><use href="#d" x="427.1" y="1066.5"/><use href="#d" x="428.0" y="1066.6"/><use href="#d" x="428.9" y="1067.2"/><use href="#d" x="429.8" y="1067.4"/><use href="#d" x="430.8" y="1067.7"/><use href="#d" x="431.7" y="1068.4"/><use href="#d" x="432.6" y="1068.2"/><use href="#d" x="433.5" y="1068.6"/><use href="#d" x="434.4" y="1067.7"/><use href="#d" x="435.3" y="1068.2"/><use href="#d" x="436.2" y="1067.7"/><use href="#d" x="437.1" y="1069.7"/><use href="#d" x="438.0" y="1067.4"/><use href="#d" x="438.9" y="1069.2"/><use href="#d" x="439.8" y="1069.2"/><use href="#d" x="440.8" y="1068.7"/><use href="#d" x="441.7" y="1069.1"/><use href="#d" x="442.6" y="1068.2"/><use href="#d" x="443.5" y="1069.1"/><use href="#d" x="444.4" y="1069.7"/><use href="#d" x="445.3" y="1069.4"/><use href="#d" x="446.2" y="1067.2"/><use href="#d" x="447.1" y="1068.5"/><use href="#d" x="448.0" y="1069.8"/><use href="#d" x="448.9" y="1068.6"/><use href="#d" x="449.9" y="1070.2"/><use href="#d" x="450.8" y="1066.7"/><use href="#d" x="451.7" y="1070.2"/><use href="#d" x="452.6" y="1068.1"/><use href="#d" x="453.5" y="1068.0"/><use href="#d" x="454.4" y="1070.0"/><use href="#d" x="455.3" y="1068.2"/><use href="#d" x="456.2" y="1067.4"/><use href="#d" x="457.1" y="1067.8"/><use href="#d" x="458.1" y="1067.9"/><use href="#d" x="459.0" y="1066.9"/><use href="#d" x="459.9" y="1067.2"/><use href="#d" x="460.8" y="1066.2"/><use href="#d" x="461.7" y="1065.6"/><use href="#d" x="462.6" y="1063.3"/><use href="#d" x="463.5" y="1063.1"/><use href="#d" x="464.4" y="1059.4"/><use href="#d" x="465.3" y="1059.3"/><use href="#d" x="466.2" y="1059.3"/><use href="#d" x="467.2" y="1058.4"/><use href="#d" x="468.1" y="1058.5"/><use href="#d" x="469.0" y="1061.2"/><use href="#d" x="469.9" y="1064.5"/><use href="#d" x="470.8" y="1064.8"/><use href="#d" x="471.7" y="1067.1"/><use href="#d" x="472.6" y="1067.5"/><use href="#d" x="473.5" y="1067.8"/><use href="#d" x="474.4" y="1070.6"/><use href="#d" x="475.3" y="1068.2"/><use href="#d" x="476.2" y="1069.6"/><use href="#d" x="477.2" y="1069.3"/><use href="#d" x="478.1" y="1070.2"/><use href="#d" x="479.0" y="1070.2"/><use href="#d" x="479.9" y="1069.7"/><use href="#d" x="480.8" y="1067.9"/><use href="#d" x="481.7" y="1067.0"/><use href="#d" x="482.6" y="1068.8"/><use href="#d" x="483.5" y="1067.7"/><use href="#d" x="484.4" y="1069.1"/><use href="#d" x="485.3" y="1070.8"/><use href="#d" x="486.3" y="1068.7"/><use href="#d" x="487.2" y="1068.4"/><use href="#d" x="488.1" y="1069.3"/><use href="#d" x="489.0" y="1068.6"/><use href="#d" x="489.9" y="1068.3"/><use href="#d" x="490.8" y="1069.8"/><use href="#d" x="491.7" y="1070.4"/><use href="#d" x="492.6" y="1069.1"/><use href="#d" x="493.5" y="1069.1"/><use href="#d" x="494.4" y="1069.3"/><use href="#d" x="495.4" y="1067.9"/><use href="#d" x="496.3" y="1067.1"/><use href="#d" x="497.2" y="1069.3"/><use href="#d" x="498.1" y="1068.2"/><use href="#d" x="499.0" y="1067.9"/><use href="#d" x="499.9" y="1068.2"/><use href="#d" x="500.8" y="1067.8"/><use href="#d" x="501.7" y="1069.3"/><use href="#d" x="502.6" y="1068.1"/><use href="#d" x="503.6" y="1066.8"/><use href="#d" x="504.5" y="1068.0"/><use href="#d" x="505.4" y="1069.5"/><use href="#d" x="506.3" y="1068.2"/><use href="#d" x="507.2" y="1067.6"/><use href="#d" x="508.1" y="1068.5"/><use href="#d" x="509.0" y="1069.4"/><use href="#d" x="509.9" y="1067.2"/><use href="#d" x="510.8" y="1070.1"/><use href="#d" x="511.7" y="1068.3"/><use href="#d" x="512.7" y="1068.8"/><use href="#d" x="513.6" y="1070.0"/><use href="#d" x="514.5" y="1067.4"/><use href="#d" x="515.4" y="1068.3"/><use href="#d" x="516.3" y="1069.7"/><use href="#d" x="517.2" y="1067.6"/><use href="#d" x="518.1" y="1068.3"/><use href="#d" x="519.0" y="1069.1"/><use href="#d" x="519.9" y="1066.8"/><use href="#d" x="520.8" y="1064.4"/><use href="#d" x="521.8" y="1062.4"/><use href="#d" x="522.7" y="1061.3"/><use href="#d" x="523.6" y="1060.5"/><use href="#d" x="524.5" y="1060.0"/><use href="#d" x="525.4" y="1061.7"/><use href="#d" x="526.3" y="1061.8"/><use href="#d" x="527.2" y="1064.5"/><use href="#d" x="528.1" y="1065.8"/><use href="#d" x="529.0" y="1066.6"/><use href="#d" x="529.9" y="1068.9"/><use href="#d" x="530.8" y="1069.0"/><use href="#d" x="531.8" y="1066.9"/><use href="#d" x="532.7" y="1068.3"/><use href="#d" x="533.6" y="1069.0"/><use href="#d" x="534.5" y="1068.4"/><use href="#d" x="535.4" y="1069.3"/><use href="#d" x="536.3" y="1068.5"/><use href="#d" x="537.2" y="1069.5"/><use href="#d" x="538.1" y="1068.5"/><use href="#d" x="539.0" y="1070.5"/><use href="#d" x="539.9" y="1067.4"/><use href="#d" x="540.9" y="1069.4"/><use href="#d" x="541.8" y="1070.5"/><use href="#d" x="542.7" y="1069.1"/><use href="#d" x="543.6" y="1069.2"/><use href="#d" x="544.5" y="1068.7"/><use href="#d" x="545.4" y="1070.0"/><use href="#d" x="546.3" y="1068.4"/><use href="#d" x="547.2" y="1065.1"/><use href="#d" x="548.1" y="1070.2"/><use href="#d" x="549.1" y="1068.5"/><use href="#d" x="550.0" y="1069.1"/><use href="#d" x="550.9" y="1068.6"/><use href="#d" x="551.8" y="1070.7"/><use href="#d" x="552.7" y="1070.0"/><use href="#d" x="553.6" y="1068.3"/><use href="#d" x="554.5" y="1068.7"/><use href="#d" x="555.4" y="1066.9"/><use href="#d" x="556.3" y="1069.2"/><use href="#d" x="557.2" y="1068.1"/><use href="#d" x="558.2" y="1065.0"/><use href="#d" x="559.1" y="1068.3"/><use href="#d" x="560.0" y="1067.8"/><use href="#d" x="560.9" y="1065.9"/><use href="#d" x="561.8" y="1064.8"/><use href="#d" x="562.7" y="1062.7"/><use href="#d" x="563.6" y="1062.3"/><use href="#d" x="564.5" y="1062.6"/><use href="#d" x="565.4" y="1061.6"/><use href="#d" x="566.3" y="1059.7"/><use href="#d" x="567.2" y="1062.2"/><use href="#d" x="568.2" y="1067.6"/><use href="#d" x="569.1" y="1066.0"/><use href="#d" x="570.0" y="1067.7"/><use href="#d" x="570.9" y="1066.9"/><use href="#d" x="571.8" y="1068.2"/><use href="#d" x="572.7" y="1066.3"/><use href="#d" x="573.6" y="1067.5"/><use href="#d" x="574.5" y="1067.7"/><use href="#d" x="575.4" y="1068.5"/><use href="#d" x="576.3" y="1068.8"/><use href="#d" x="577.3" y="1068.4"/><use href="#d" x="578.2" y="1067.4"/><use href="#d" x="579.1" y="1068.2"/><use href="#d" x="580.0" y="1069.1"/><use href="#d" x="580.9" y="1067.5"/><use href="#d" x="581.8" y="1068.6"/><use href="#d" x="582.7" y="1068.9"/><use href="#d" x="583.6" y="1069.6"/><use href="#d" x="584.5" y="1069.4"/><use href="#d" x="585.4" y="1069.5"/><use href="#d" x="586.4" y="1071.7"/><use href="#d" x="587.3" y="1067.7"/><use href="#d" x="588.2" y="1068.2"/><use href="#d" x="589.1" y="1069.0"/><use href="#d" x="590.0" y="1067.7"/><use href="#d" x="590.9" y="1068.3"/><use href="#d" x="591.8" y="1068.3"/><use href="#d" x="592.7" y="1071.2"/><use href="#d" x="593.6" y="1068.9"/><use href="#d" x="594.6" y="1068.0"/><use href="#d" x="595.5" y="1066.7"/><use href="#d" x="596.4" y="1066.2"/><use href="#d" x="597.3" y="1066.1"/><use href="#d" x="598.2" y="1068.1"/><use href="#d" x="599.1" y="1068.1"/><use href="#d" x="600.0" y="1063.9"/><use href="#d" x="600.9" y="1063.0"/><use href="#d" x="601.8" y="1060.7"/><use href="#d" x="602.7" y="1061.0"/><use href="#d" x="603.7" y="1060.6"/><use href="#d" x="604.6" y="1063.2"/><use href="#d" x="605.5" y="1062.6"/><use href="#d" x="606.4" y="1065.0"/><use href="#d" x="607.3" y="1065.5"/><use href="#d" x="608.2" y="1066.4"/><use href="#d" x="609.1" y="1067.7"/><use href="#d" x="610.0" y="1067.8"/><use href="#d" x="610.9" y="1068.4"/><use href="#d" x="611.8" y="1067.8"/><use href="#d" x="612.8" y="1068.1"/><use href="#d" x="613.7" y="1069.3"/><use href="#d" x="614.6" y="1069.3"/><use href="#d" x="615.5" y="1066.9"/><use href="#d" x="616.4" y="1068.9"/><use href="#d" x="617.3" y="1067.8"/><use href="#d" x="618.2" y="1068.4"/><use href="#d" x="619.1" y="1069.4"/><use href="#d" x="620.0" y="1069.6"/><use href="#d" x="620.9" y="1068.7"/><use href="#d" x="621.8" y="1068.6"/><use href="#d" x="622.8" y="1068.2"/><use href="#d" x="623.7" y="1070.2"/><use href="#d" x="624.6" y="1069.5"/><use href="#d" x="625.5" y="1068.9"/><use href="#d" x="626.4" y="1067.2"/><use href="#d" x="627.3" y="1071.3"/><use href="#d" x="628.2" y="1068.4"/><use href="#d" x="629.1" y="1069.4"/><use href="#d" x="630.0" y="1068.4"/><use href="#d" x="630.9" y="1069.3"/><use href="#d" x="631.9" y="1068.4"/><use href="#d" x="632.8" y="1067.2"/><use href="#d" x="633.7" y="1068.4"/><use href="#d" x="634.6" y="1068.3"/><use href="#d" x="635.5" y="1068.4"/><use href="#d" x="636.4" y="1069.5"/><use href="#d" x="637.3" y="1068.2"/><use href="#d" x="638.2" y="1068.9"/><use href="#d" x="639.1" y="1069.5"/><use href="#d" x="640.1" y="1068.7"/><use href="#d" x="641.0" y="1068.8"/><use href="#d" x="641.9" y="1067.7"/><use href="#d" x="642.8" y="1068.5"/><use href="#d" x="643.7" y="1068.9"/><use href="#d" x="644.6" y="1066.8"/><use href="#d" x="645.5" y="1067.2"/><use href="#d" x="646.4" y="1066.7"/><use href="#d" x="647.3" y="1067.2"/><use href="#d" x="648.2" y="1067.8"/><use href="#d" x="649.2" y="1067.9"/><use href="#d" x="650.1" y="1067.4"/><use href="#d" x="651.0" y="1065.7"/><use href="#d" x="651.9" y="1066.0"/><use href="#d" x="652.8" y="1067.0"/><use href="#d" x="653.7" y="1064.6"/><use href="#d" x="654.6" y="1064.9"/><use href="#d" x="655.5" y="1061.6"/><use href="#d" x="656.4" y="1060.8"/><use href="#d" x="657.3" y="1057.7"/><use href="#d" x="658.2" y="1051.7"/><use href="#d" x="659.2" y="1045.2"/><use href="#d" x="660.1" y="1036.8"/><use href="#d" x="661.0" y="1018.9"/><use href="#d" x="661.9" y="993.2"/><use href="#d" x="662.8" y="958.3"/><use href="#d" x="663.7" y="892.6"/><use href="#d" x="664.6" y="797.0"/><use href="#d" x="665.5" y="652.8"/><use href="#d" x="666.4" y="473.7"/><use href="#d" x="667.3" y="321.0"/><use href="#d" x="668.3" y="280.2"/><use href="#d" x="669.2" y="387.0"/><use href="#d" x="670.1" y="565.7"/><use href="#d" x="671.0" y="730.5"/><use href="#d" x="671.9" y="852.3"/><use href="#d" x="672.8" y="929.6"/><use href="#d" x="673.7" y="977.4"/><use href="#d" x="674.6" y="1010.8"/><use href="#d" x="675.5" y="1028.7"/><use href="#d" x="676.4" y="1040.5"/><use href="#d" x="677.4" y="1047.7"/><use href="#d" x="678.3" y="1052.9"/><use href="#d" x="679.2" y="1058.5"/><use href="#d" x="680.1" y="1061.5"/><use href="#d" x="681.0" y="1062.2"/><use href="#d" x="681.9" y="1064.4"/><use href="#d" x="682.8" y="1065.4"/><use href="#d" x="683.7" y="1064.7"/><use href="#d" x="684.6" y="1064.7"/><use href="#d" x="685.6" y="1066.6"/><use href="#d" x="686.5" y="1067.5"/><use href="#d" x="687.4" y="1067.0"/><use href="#d" x="688.3" y="1069.7"/><use href="#d" x="689.2" y="1068.0"/><use href="#d" x="690.1" y="1069.2"/><use href="#d" x="691.0" y="1065.8"/><use href="#d" x="691.9" y="1067.6"/><use href="#d" x="692.8" y="1068.3"/><use href="#d" x="693.7" y="1068.7"/><use href="#d" x="694.7" y="1071.2"/><use href="#d" x="695.6" y="1067.9"/><use href="#d" x="696.5" y="1067.0"/><use href="#d" x="697.4" y="1069.4"/><use href="#d" x="698.3" y="1068.0"/><use href="#d" x="699.2" y="1068.0"/><use href="#d" x="700.1" y="1070.4"/><use href="#d" x="701.0" y="1067.8"/><use href="#d" x="701.9" y="1067.4"/><use href="#d" x="702.8" y="1068.6"/><use href="#d" x="703.8" y="1068.9"/><use href="#d" x="704.7" y="1068.0"/><use href="#d" x="705.6" y="1070.4"/><use href="#d" x="706.5" y="1068.7"/><use href="#d" x="707.4" y="1067.7"/><use href="#d" x="708.3" y="1070.1"/><use href="#d" x="709.2" y="1067.8"/><use href="#d" x="710.1" y="1069.3"/><use href="#d" x="711.0" y="1071.0"/><use href="#d" x="711.9" y="1069.0"/><use href="#d" x="712.8" y="1069.8"/><use href="#d" x="713.8" y="1068.5"/><use href="#d" x="714.7" y="1070.0"/><use href="#d" x="715.6" y="1067.7"/><use href="#d" x="716.5" y="1069.6"/><use href="#d" x="717.4" y="1068.4"/><use href="#d" x="718.3" y="1069.4"/><use href="#d" x="719.2" y="1069.1"/><use href="#d" x="720.1" y="1067.5"/><use href="#d" x="721.0" y="1068.5"/><use href="#d" x="721.9" y="1069.1"/><use href="#d" x="722.9" y="1070.0"/><use href="#d" x="723.8" y="1067.5"/><use href="#d" x="724.7" y="1067.9"/><use href="#d" x="725.6" y="1069.0"/><use href="#d" x="726.5" y="1068.3"/><use href="#d" x="727.4" y="1069.6"/><use href="#d" x="728.3" y="1069.5"/><use href="#d" x="729.2" y="1069.2"/><use href="#d" x="730.1" y="1067.9"/><use href="#d" x="731.1" y="1067.8"/><use href="#d" x="732.0" y="1068.6"/><use href="#d" x="732.9" y="1066.6"/><use href="#d" x="733.8" y="1066.0"/><use href="#d" x="734.7" y="1065.9"/><use href="#d" x="735.6" y="1064.0"/><use href="#d" x="736.5" y="1064.2"/><use href="#d" x="737.4" y="1062.5"/><use href="#d" x="738.3" y="1060.4"/><use href="#d" x="739.2" y="1059.4"/><use href="#d" x="740.2" y="1057.3"/><use href="#d" x="741.1" y="1058.8"/><use href="#d" x="742.0" y="1056.0"/><use href="#d" x="742.9" y="1059.0"/><use href="#d" x="743.8" y="1059.5"/><use href="#d" x="744.7" y="1062.3"/><use href="#d" x="745.6" y="1061.8"/><use href="#d" x="746.5" y="1062.5"/><use href="#d" x="747.4" y="1063.9"/><use href="#d" x="748.3" y="1065.1"/><use href="#d" x="749.2" y="1068.4"/><use href="#d" x="750.2" y="1068.1"/><use href="#d" x="751.1" y="1068.2"/><use href="#d" x="752.0" y="1068.9"/><use href="#d" x="752.9" y="1066.9"/><use href="#d" x="753.8" y="1068.0"/><use href="#d" x="754.7" y="1068.3"/><use href="#d" x="755.6" y="1067.8"/><use href="#d" x="756.5" y="1069.3"/><use href="#d" x="757.4" y="1069.3"/><use href="#d" x="758.3" y="1069.3"/><use href="#d" x="759.3" y="1067.8"/><use href="#d" x="760.2" y="1068.0"/><use href="#d" x="761.1" y="1067.7"/><use href="#d" x="762.0" y="1067.1"/><use href="#d" x="762.9" y="1069.6"/><use href="#d" x="763.8" y="1068.6"/><use href="#d" x="764.7" y="1067.7"/><use href="#d" x="765.6" y="1068.9"/><use href="#d" x="766.5" y="1067.6"/><use href="#d" x="767.4" y="1065.3"/><use href="#d" x="768.4" y="1064.4"/><use href="#d" x="769.3" y="1063.3"/><use href="#d" x="770.2" y="1063.1"/><use href="#d" x="771.1" y="1061.8"/><use href="#d" x="772.0" y="1059.0"/><use href="#d" x="772.9" y="1059.1"/><use href="#d" x="773.8" y="1057.4"/><use href="#d" x="774.7" y="1056.0"/><use href="#d" x="775.6" y="1058.1"/><use href="#d" x="776.6" y="1059.4"/><use href="#d" x="777.5" y="1060.2"/><use href="#d" x="778.4" y="1061.1"/><use href="#d" x="779.3" y="1062.7"/><use href="#d" x="780.2" y="1064.4"/><use href="#d" x="781.1" y="1065.1"/><use href="#d" x="782.0" y="1068.2"/><use href="#d" x="782.9" y="1068.1"/><use href="#d" x="783.8" y="1067.5"/><use href="#d" x="784.7" y="1069.0"/><use href="#d" x="785.6" y="1069.6"/><use href="#d" x="786.6" y="1069.6"/><use href="#d" x="787.5" y="1069.4"/><use href="#d" x="788.4" y="1068.8"/><use href="#d" x="789.3" y="1069.7"/><use href="#d" x="790.2" y="1068.4"/><use href="#d" x="791.1" y="1067.0"/><use href="#d" x="792.0" y="1068.9"/><use href="#d" x="792.9" y="1067.5"/><use href="#d" x="793.8" y="1068.5"/><use href="#d" x="794.8" y="1070.0"/><use href="#d" x="795.7" y="1069.1"/><use href="#d" x="796.6" y="1069.9"/><use href="#d" x="797.5" y="1068.1"/><use href="#d" x="798.4" y="1070.1"/><use href="#d" x="799.3" y="1067.5"/><use href="#d" x="800.2" y="1068.3"/><use href="#d" x="801.1" y="1071.0"/><use href="#d" x="802.0" y="1068.1"/><use href="#d" x="802.9" y="1067.3"/><use href="#d" x="803.9" y="1069.8"/><use href="#d" x="804.8" y="1067.9"/><use href="#d" x="805.7" y="1070.8"/><use href="#d" x="806.6" y="1068.7"/><use href="#d" x="807.5" y="1070.6"/><use href="#d" x="808.4" y="1068.4"/><use href="#d" x="809.3" y="1070.7"/><use href="#d" x="810.2" y="1071.6"/><use href="#d" x="811.1" y="1068.4"/><use href="#d" x="812.0" y="1066.5"/><use href="#d" x="812.9" y="1069.4"/><use href="#d" x="813.9" y="1067.9"/><use href="#d" x="814.8" y="1068.6"/><use href="#d" x="815.7" y="1069.0"/><use href="#d" x="816.6" y="1068.0"/><use href="#d" x="817.5" y="1066.9"/><use href="#d" x="818.4" y="1069.8"/><use href="#d" x="819.3" y="1067.9"/><use href="#d" x="820.2" y="1068.0"/><use href="#d" x="821.1" y="1069.7"/><use href="#d" x="822.1" y="1066.5"/><use href="#d" x="823.0" y="1066.0"/><use href="#d" x="823.9" y="1068.8"/><use href="#d" x="824.8" y="1065.8"/><use href="#d" x="825.7" y="1067.3"/><use href="#d" x="826.6" y="1067.2"/><use href="#d" x="827.5" y="1065.0"/><use href="#d" x="828.4" y="1065.7"/><use href="#d" x="829.3" y="1064.6"/><use href="#d" x="830.2" y="1061.8"/><use href="#d" x="831.1" y="1059.5"/><use href="#d" x="832.1" y="1056.2"/><use href="#d" x="833.0" y="1053.2"/><use href="#d" x="833.9" y="1046.1"/><use href="#d" x="834.8" y="1034.4"/><use href="#d" x="835.7" y="1026.9"/><use href="#d" x="836.6" y="1017.0"/><use href="#d" x="837.5" y="1012.7"/><use href="#d" x="838.4" y="1011.8"/><use href="#d" x="839.3" y="1018.5"/><use href="#d" x="840.2" y="1024.3"/><use href="#d" x="841.2" y="1036.7"/><use href="#d" x="842.1" y="1044.7"/><use href="#d" x="843.0" y="1052.0"/><use href="#d" x="843.9" y="1056.0"/><use href="#d" x="844.8" y="1062.5"/><use href="#d" x="845.7" y="1063.5"/><use href="#d" x="846.6" y="1065.3"/><use href="#d" x="847.5" y="1065.5"/><use href="#d" x="848.4" y="1066.2"/><use href="#d" x="849.4" y="1067.7"/><use href="#d" x="850.3" y="1067.3"/><use href="#d" x="851.2" y="1068.2"/><use href="#d" x="852.1" y="1067.6"/><use href="#d" x="853.0" y="1068.3"/><use href="#d" x="853.9" y="1069.1"/><use href="#d" x="854.8" y="1068.6"/><use href="#d" x="855.7" y="1068.3"/><use href="#d" x="856.6" y="1066.4"/><use href="#d" x="857.5" y="1069.3"/><use href="#d" x="858.4" y="1068.6"/><use href="#d" x="859.4" y="1067.5"/><use href="#d" x="860.3" y="1071.2"/><use href="#d" x="861.2" y="1070.9"/><use href="#d" x="862.1" y="1070.3"/><use href="#d" x="863.0" y="1069.3"/><use href="#d" x="863.9" y="1066.6"/><use href="#d" x="864.8" y="1068.8"/><use href="#d" x="865.7" y="1067.9"/><use href="#d" x="866.6" y="1069.4"/><use href="#d" x="867.6" y="1071.7"/><use href="#d" x="868.5" y="1071.5"/><use href="#d" x="869.4" y="1067.9"/><use href="#d" x="870.3" y="1068.6"/><use href="#d" x="871.2" y="1069.8"/><use href="#d" x="872.1" y="1066.8"/><use href="#d" x="873.0" y="1068.9"/><use href="#d" x="873.9" y="1065.3"/><use href="#d" x="874.8" y="1064.0"/><use href="#d" x="875.7" y="1065.5"/><use href="#d" x="876.6" y="1065.2"/><use href="#d" x="877.6" y="1062.9"/><use href="#d" x="878.5" y="1065.2"/><use href="#d" x="879.4" y="1063.8"/><use href="#d" x="880.3" y="1066.9"/><use href="#d" x="881.2" y="1065.8"/><use href="#d" x="882.1" y="1067.4"/><use href="#d" x="883.0" y="1068.6"/><use href="#d" x="883.9" y="1069.6"/><use href="#d" x="884.8" y="1068.8"/><use href="#d" x="885.8" y="1071.3"/><use href="#d" x="886.7" y="1069.7"/><use href="#d" x="887.6" y="1070.0"/><use href="#d" x="888.5" y="1068.9"/><use href="#d" x="889.4" y="1071.0"/><use href="#d" x="890.3" y="1068.0"/><use href="#d" x="891.2" y="1070.1"/><use href="#d" x="892.1" y="1071.0"/><use href="#d" x="893.0" y="1068.4"/><use href="#d" x="893.9" y="1068.1"/><use href="#d" x="894.9" y="1070.1"/><use href="#d" x="895.8" y="1070.8"/><use href="#d" x="896.7" y="1069.9"/><use href="#d" x="897.6" y="1070.7"/><use href="#d" x="898.5" y="1070.3"/><use href="#d" x="899.4" y="1068.4"/><use href="#d" x="900.3" y="1069.6"/><use href="#d" x="901.2" y="1069.9"/><use href="#d" x="902.1" y="1069.7"/><use href="#d" x="903.0" y="1070.1"/><use href="#d" x="903.9" y="1069.2"/><use href="#d" x="904.9" y="1069.1"/><use href="#d" x="905.8" y="1070.5"/><use href="#d" x="906.7" y="1070.0"/><use href="#d" x="907.6" y="1067.6"/><use href="#d" x="908.5" y="1069.7"/><use href="#d" x="909.4" y="1070.3"/><use href="#d" x="910.3" y="1068.0"/><use href="#d" x="911.2" y="1070.1"/><use href="#d" x="912.1" y="1071.2"/><use href="#d" x="913.1" y="1069.4"/><use href="#d" x="914.0" y="1071.0"/><use href="#d" x="914.9" y="1070.6"/><use href="#d" x="915.8" y="1069.8"/><use href="#d" x="916.7" y="1070.2"/><use href="#d" x="917.6" y="1070.9"/><use href="#d" x="918.5" y="1070.7"/><use href="#d" x="919.4" y="1070.7"/><use href="#d" x="920.3" y="1068.9"/><use href="#d" x="921.2" y="1070.8"/><use href="#d" x="922.1" y="1070.7"/><use href="#d" x="923.1" y="1068.0"/><use href="#d" x="924.0" y="1070.7"/><use href="#d" x="924.9" y="1068.5"/><use href="#d" x="925.8" y="1068.7"/><use href="#d" x="926.7" y="1070.2"/><use href="#d" x="927.6" y="1071.5"/><use href="#d" x="928.5" y="1069.6"/><use href="#d" x="929.4" y="1069.4"/><use href="#d" x="930.3" y="1069.0"/><use href="#d" x="931.2" y="1070.0"/><use href="#d" x="932.2" y="1068.8"/><use href="#d" x="933.1" y="1068.6"/><use href="#d" x="934.0" y="1071.1"/><use href="#d" x="934.9" y="1068.5"/><use href="#d" x="935.8" y="1069.7"/><use href="#d" x="936.7" y="1070.5"/><use href="#d" x="937.6" y="1070.2"/><use href="#d" x="938.5" y="1067.8"/><use href="#d" x="939.4" y="1068.6"/><use href="#d" x="940.4" y="1071.3"/><use href="#d" x="941.3" y="1069.1"/><use href="#d" x="942.2" y="1069.0"/><use href="#d" x="943.1" y="1068.5"/><use href="#d" x="944.0" y="1068.1"/><use href="#d" x="944.9" y="1068.3"/><use href="#d" x="945.8" y="1065.0"/><use href="#d" x="946.7" y="1066.2"/><use href="#d" x="947.6" y="1065.1"/><use href="#d" x="948.5" y="1065.3"/><use href="#d" x="949.4" y="1065.9"/><use href="#d" x="950.4" y="1065.1"/><use href="#d" x="951.3" y="1066.3"/><use href="#d" x="952.2" y="1068.2"/><use href="#d" x="953.1" y="1069.2"/><use href="#d" x="954.0" y="1069.2"/><use href="#d" x="954.9" y="1068.1"/><use href="#d" x="955.8" y="1069.2"/><use href="#d" x="956.7" y="1069.2"/><use href="#d" x="957.6" y="1069.9"/><use href="#d" x="958.6" y="1069.9"/><use href="#d" x="959.5" y="1069.4"/><use href="#d" x="960.4" y="1071.6"/><use href="#d" x="961.3" y="1068.0"/><use href="#d" x="962.2" y="1070.4"/><use href="#d" x="963.1" y="1070.2"/><use href="#d" x="964.0" y="1068.2"/><use href="#d" x="964.9" y="1069.3"/><use href="#d" x="965.8" y="1069.5"/><use href="#d" x="966.7" y="1070.1"/><use href="#d" x="967.6" y="1071.0"/><use href="#d" x="968.6" y="1069.2"/><use href="#d" x="969.5" y="1068.0"/><use href="#d" x="970.4" y="1070.1"/><use href="#d" x="971.3" y="1067.7"/><use href="#d" x="972.2" y="1070.1"/><use href="#d" x="973.1" y="1069.6"/><use href="#d" x="974.0" y="1068.1"/><use href="#d" x="974.9" y="1068.5"/><use href="#d" x="975.8" y="1067.5"/><use href="#d" x="976.8" y="1068.7"/><use href="#d" x="977.7" y="1068.7"/><use href="#d" x="978.6" y="1069.0"/><use href="#d" x="979.5" y="1067.6"/><use href="#d" x="980.4" y="1066.4"/><use href="#d" x="981.3" y="1065.1"/><use href="#d" x="982.2" y="1060.7"/><use href="#d" x="983.1" y="1057.7"/><use href="#d" x="984.0" y="1053.3"/><use href="#d" x="984.9" y="1040.9"/><use href="#d" x="985.9" y="1034.9"/><use href="#d" x="986.8" y="1025.0"/><use href="#d" x="987.7" y="1013.0"/><use href="#d" x="988.6" y="1007.2"/><use href="#d" x="989.5" y="1009.6"/><use href="#d" x="990.4" y="1015.8"/><use href="#d" x="991.3" y="1024.8"/><use href="#d" x="992.2" y="1032.9"/><use href="#d" x="993.1" y="1043.8"/><use href="#d" x="994.0" y="1052.1"/><use href="#d" x="994.9" y="1057.0"/><use href="#d" x="995.9" y="1059.7"/><use href="#d" x="996.8" y="1065.1"/><use href="#d" x="997.7" y="1065.7"/><use href="#d" x="998.6" y="1067.8"/><use href="#d" x="999.5" y="1064.8"/><use href="#d" x="1000.4" y="1065.7"/><use href="#d" x="1001.3" y="1066.9"/><use href="#d" x="1002.2" y="1068.3"/><use href="#d" x="1003.1" y="1067.8"/><use href="#d" x="1004.1" y="1070.8"/><use href="#d" x="1005.0" y="1068.5"/><use href="#d" x="1005.9" y="1070.3"/><use href="#d" x="1006.8" y="1070.4"/><use href="#d" x="1007.7" y="1069.8"/><use href="#d" x="1008.6" y="1069.5"/><use href="#d" x="1009.5" y="1068.6"/><use href="#d" x="1010.4" y="1068.5"/><use href="#d" x="1011.3" y="1069.0"/><use href="#d" x="1012.2" y="1070.3"/><use href="#d" x="1013.1" y="1068.6"/><use href="#d" x="1014.1" y="1069.4"/><use href="#d" x="1015.0" y="1068.0"/><use href="#d" x="1015.9" y="1070.0"/><use href="#d" x="1016.8" y="1071.7"/><use href="#d" x="1017.7" y="1069.0"/><use href="#d" x="1018.6" y="1065.8"/><use href="#d" x="1019.5" y="1066.8"/><use href="#d" x="1020.4" y="1066.7"/><use href="#d" x="1021.3" y="1064.5"/><use href="#d" x="1022.2" y="1063.7"/><use href="#d" x="1023.2" y="1062.6"/><use href="#d" x="1024.1" y="1062.6"/><use href="#d" x="1025.0" y="1061.5"/><use href="#d" x="1025.9" y="1061.3"/><use href="#d" x="1026.8" y="1062.8"/><use href="#d" x="1027.7" y="1064.3"/><use href="#d" x="1028.6" y="1064.2"/><use href="#d" x="1029.5" y="1064.5"/><use href="#d" x="1030.4" y="1065.9"/><use href="#d" x="1031.3" y="1067.0"/><use href="#d" x="1032.3" y="1067.7"/><use href="#d" x="1033.2" y="1066.1"/><use href="#d" x="1034.1" y="1068.9"/><use href="#d" x="1035.0" y="1068.3"/><use href="#d" x="1035.9" y="1067.5"/><use href="#d" x="1036.8" y="1069.6"/><use href="#d" x="1037.7" y="1069.5"/><use href="#d" x="1038.6" y="1068.8"/><use href="#d" x="1039.5" y="1068.1"/><use href="#d" x="1040.4" y="1069.6"/><use href="#d" x="1041.4" y="1069.6"/><use href="#d" x="1042.3" y="1069.9"/><use href="#d" x="1043.2" y="1071.3"/><use href="#d" x="1044.1" y="1068.9"/><use href="#d" x="1045.0" y="1070.3"/><use href="#d" x="1045.9" y="1071.9"/><use href="#d" x="1046.8" y="1070.2"/><use href="#d" x="1047.7" y="1071.9"/><use href="#d" x="1048.6" y="1071.2"/><use href="#d" x="1049.6" y="1070.1"/><use href="#d" x="1050.5" y="1071.1"/><use href="#d" x="1051.4" y="1069.0"/><use href="#d" x="1052.3" y="1071.7"/><use href="#d" x="1053.2" y="1069.9"/><use href="#d" x="1054.1" y="1069.6"/><use href="#d" x="1055.0" y="1068.6"/><use href="#d" x="1055.9" y="1069.2"/><use href="#d" x="1056.8" y="1069.9"/><use href="#d" x="1057.7" y="1070.1"/><use href="#d" x="1058.6" y="1070.2"/><use href="#d" x="1059.6" y="1069.0"/><use href="#d" x="1060.5" y="1070.9"/><use href="#d" x="1061.4" y="1069.6"/><use href="#d" x="1062.3" y="1070.3"/><use href="#d" x="1063.2" y="1069.9"/><use href="#d" x="1064.1" y="1070.5"/><use href="#d" x="1065.0" y="1068.0"/><use href="#d" x="1065.9" y="1070.9"/><use href="#d" x="1066.8" y="1069.9"/><use href="#d" x="1067.8" y="1069.9"/><use href="#d" x="1068.7" y="1069.6"/><use href="#d" x="1069.6" y="1069.7"/><use href="#d" x="1070.5" y="1069.8"/><use href="#d" x="1071.4" y="1069.2"/><use href="#d" x="1072.3" y="1071.8"/><use href="#d" x="1073.2" y="1070.2"/><use href="#d" x="1074.1" y="1071.5"/><use href="#d" x="1075.0" y="1069.9"/><use href="#d" x="1075.9" y="1071.4"/><use href="#d" x="1076.9" y="1071.2"/><use href="#d" x="1077.8" y="1070.2"/><use href="#d" x="1078.7" y="1068.7"/><use href="#d" x="1079.6" y="1069.6"/><use href="#d" x="1080.5" y="1069.8"/><use href="#d" x="1081.4" y="1068.7"/><use href="#d" x="1082.3" y="1071.1"/><use href="#d" x="1083.2" y="1072.3"/><use href="#d" x="1084.1" y="1070.6"/><use href="#d" x="1085.0" y="1070.4"/><use href="#d" x="1085.9" y="1068.8"/><use href="#d" x="1086.9" y="1067.9"/><use href="#d" x="1087.8" y="1071.4"/><use href="#d" x="1088.7" y="1067.5"/><use href="#d" x="1089.6" y="1068.4"/><use href="#d" x="1090.5" y="1069.1"/><use href="#d" x="1091.4" y="1069.6"/><use href="#d" x="1092.3" y="1067.4"/><use href="#d" x="1093.2" y="1069.8"/><use href="#d" x="1094.1" y="1070.4"/><use href="#d" x="1095.1" y="1069.7"/><use href="#d" x="1096.0" y="1071.2"/><use href="#d" x="1096.9" y="1069.2"/><use href="#d" x="1097.8" y="1069.8"/><use href="#d" x="1098.7" y="1069.2"/><use href="#d" x="1099.6" y="1069.1"/><use href="#d" x="1100.5" y="1070.5"/><use href="#d" x="1101.4" y="1067.8"/><use href="#d" x="1102.3" y="1070.0"/><use href="#d" x="1103.2" y="1067.7"/><use href="#d" x="1104.1" y="1069.9"/><use href="#d" x="1105.1" y="1067.2"/><use href="#d" x="1106.0" y="1067.6"/><use href="#d" x="1106.9" y="1065.6"/><use href="#d" x="1107.8" y="1064.9"/><use href="#d" x="1108.7" y="1064.7"/><use href="#d" x="1109.6" y="1061.5"/><use href="#d" x="1110.5" y="1057.9"/><use href="#d" x="1111.4" y="1054.9"/><use href="#d" x="1112.3" y="1054.7"/><use href="#d" x="1113.2" y="1053.4"/><use href="#d" x="1114.2" y="1050.8"/><use href="#d" x="1115.1" y="1049.7"/><use href="#d" x="1116.0" y="1050.4"/><use href="#d" x="1116.9" y="1051.3"/><use href="#d" x="1117.8" y="1050.2"/><use href="#d" x="1118.7" y="1050.0"/><use href="#d" x="1119.6" y="1048.6"/><use href="#d" x="1120.5" y="1045.9"/><use href="#d" x="1121.4" y="1035.5"/><use href="#d" x="1122.4" y="1018.1"/><use href="#d" x="1123.3" y="988.4"/><use href="#d" x="1124.2" y="938.4"/><use href="#d" x="1125.1" y="884.4"/><use href="#d" x="1126.0" y="855.0"/><use href="#d" x="1126.9" y="874.4"/><use href="#d" x="1127.8" y="928.8"/><use href="#d" x="1128.7" y="980.1"/><use href="#d" x="1129.6" y="1015.1"/><use href="#d" x="1130.5" y="1037.0"/><use href="#d" x="1131.4" y="1051.4"/><use href="#d" x="1132.4" y="1057.8"/><use href="#d" x="1133.3" y="1060.7"/><use href="#d" x="1134.2" y="1065.2"/><use href="#d" x="1135.1" y="1066.1"/><use href="#d" x="1136.0" y="1066.8"/><use href="#d" x="1136.9" y="1066.5"/><use href="#d" x="1137.8" y="1067.2"/><use href="#d" x="1138.7" y="1067.9"/><use href="#d" x="1139.6" y="1069.4"/><use href="#d" x="1140.6" y="1068.4"/><use href="#d" x="1141.5" y="1069.0"/><use href="#d" x="1142.4" y="1069.8"/><use href="#d" x="1143.3" y="1068.3"/><use href="#d" x="1144.2" y="1069.3"/><use href="#d" x="1145.1" y="1070.6"/><use href="#d" x="1146.0" y="1068.5"/><use href="#d" x="1146.9" y="1070.1"/><use href="#d" x="1147.8" y="1069.2"/><use href="#d" x="1148.7" y="1071.4"/><use href="#d" x="1149.6" y="1069.8"/><use href="#d" x="1150.6" y="1070.6"/><use href="#d" x="1151.5" y="1070.5"/><use href="#d" x="1152.4" y="1071.2"/><use href="#d" x="1153.3" y="1066.7"/><use href="#d" x="1154.2" y="1068.8"/><use href="#d" x="1155.1" y="1068.0"/><use href="#d" x="1156.0" y="1066.8"/><use href="#d" x="1156.9" y="1067.8"/><use href="#d" x="1157.8" y="1066.9"/><use href="#d" x="1158.8" y="1068.9"/><use href="#d" x="1159.7" y="1067.4"/><use href="#d" x="1160.6" y="1068.4"/><use href="#d" x="1161.5" y="1067.8"/><use href="#d" x="1162.4" y="1068.5"/><use href="#d" x="1163.3" y="1070.5"/><use href="#d" x="1164.2" y="1071.3"/><use href="#d" x="1165.1" y="1070.6"/><use href="#d" x="1166.0" y="1069.0"/><use href="#d" x="1166.9" y="1069.5"/><use href="#d" x="1167.9" y="1069.6"/><use href="#d" x="1168.8" y="1072.1"/><use href="#d" x="1169.7" y="1072.9"/><use href="#d" x="1170.6" y="1070.8"/><use href="#d" x="1171.5" y="1070.5"/><use href="#d" x="1172.4" y="1070.8"/><use href="#d" x="1173.3" y="1069.8"/><use href="#d" x="1174.2" y="1070.3"/><use href="#d" x="1175.1" y="1071.4"/><use href="#d" x="1176.0" y="1071.0"/><use href="#d" x="1176.9" y="1070.0"/><use href="#d" x="1177.9" y="1070.0"/><use href="#d" x="1178.8" y="1070.1"/><use href="#d" x="1179.7" y="1067.6"/><use href="#d" x="1180.6" y="1070.1"/><use href="#d" x="1181.5" y="1069.5"/><use href="#d" x="1182.4" y="1070.4"/><use href="#d" x="1183.3" y="1069.5"/><use href="#d" x="1184.2" y="1068.2"/><use href="#d" x="1185.1" y="1067.9"/><use href="#d" x="1186.1" y="1068.3"/><use href="#d" x="1187.0" y="1067.6"/><use href="#d" x="1187.9" y="1067.8"/><use href="#d" x="1188.8" y="1069.9"/><use href="#d" x="1189.7" y="1071.6"/><use href="#d" x="1190.6" y="1066.1"/><use href="#d" x="1191.5" y="1067.9"/><use href="#d" x="1192.4" y="1069.1"/><use href="#d" x="1193.3" y="1071.2"/><use href="#d" x="1194.2" y="1070.9"/><use href="#d" x="1195.1" y="1068.4"/><use href="#d" x="1196.1" y="1072.8"/><use href="#d" x="1197.0" y="1070.3"/><use href="#d" x="1197.9" y="1069.1"/><use href="#d" x="1198.8" y="1069.9"/><use href="#d" x="1199.7" y="1069.3"/><use href="#d" x="1200.6" y="1070.3"/><use href="#d" x="1201.5" y="1067.6"/><use href="#d" x="1202.4" y="1071.2"/><use href="#d" x="1203.3" y="1071.6"/><use href="#d" x="1204.2" y="1069.9"/><use href="#d" x="1205.2" y="1068.7"/><use href="#d" x="1206.1" y="1070.2"/><use href="#d" x="1207.0" y="1069.0"/><use href="#d" x="1207.9" y="1070.7"/><use href="#d" x="1208.8" y="1071.3"/><use href="#d" x="1209.7" y="1068.6"/><use href="#d" x="1210.6" y="1068.4"/><use href="#d" x="1211.5" y="1068.5"/><use href="#d" x="1212.4" y="1070.5"/><use href="#d" x="1213.4" y="1071.2"/><use href="#d" x="1214.3" y="1071.2"/><use href="#d" x="1215.2" y="1070.2"/><use href="#d" x="1216.1" y="1069.3"/><use href="#d" x="1217.0" y="1069.3"/><use href="#d" x="1217.9" y="1071.2"/><use href="#d" x="1218.8" y="1069.4"/><use href="#d" x="1219.7" y="1069.4"/><use href="#d" x="1220.6" y="1069.0"/><use href="#d" x="1221.5" y="1068.8"/><use href="#d" x="1222.4" y="1068.5"/><use href="#d" x="1223.4" y="1067.2"/><use href="#d" x="1224.3" y="1067.1"/><use href="#d" x="1225.2" y="1066.4"/><use href="#d" x="1226.1" y="1066.8"/><use href="#d" x="1227.0" y="1065.2"/><use href="#d" x="1227.9" y="1065.6"/><use href="#d" x="1228.8" y="1067.8"/><use href="#d" x="1229.7" y="1065.4"/><use href="#d" x="1230.6" y="1066.7"/><use href="#d" x="1231.6" y="1066.0"/><use href="#d" x="1232.5" y="1067.6"/><use href="#d" x="1233.4" y="1068.0"/><use href="#d" x="1234.3" y="1068.0"/><use href="#d" x="1235.2" y="1068.5"/><use href="#d" x="1236.1" y="1069.1"/><use href="#d" x="1237.0" y="1070.5"/><use href="#d" x="1237.9" y="1066.7"/><use href="#d" x="1238.8" y="1070.2"/><use href="#d" x="1239.7" y="1068.8"/><use href="#d" x="1240.6" y="1067.6"/><use href="#d" x="1241.6" y="1067.6"/><use href="#d" x="1242.5" y="1067.0"/><use href="#d" x="1243.4" y="1066.3"/><use href="#d" x="1244.3" y="1064.9"/><use href="#d" x="1245.2" y="1064.7"/><use href="#d" x="1246.1" y="1060.2"/><use href="#d" x="1247.0" y="1061.6"/><use href="#d" x="1247.9" y="1056.6"/><use href="#d" x="1248.8" y="1052.4"/><use href="#d" x="1249.8" y="1046.5"/><use href="#d" x="1250.7" y="1038.7"/><use href="#d" x="1251.6" y="1030.4"/><use href="#d" x="1252.5" y="1026.5"/><use href="#d" x="1253.4" y="1022.8"/><use href="#d" x="1254.3" y="1021.3"/><use href="#d" x="1255.2" y="1025.2"/><use href="#d" x="1256.1" y="1029.9"/><use href="#d" x="1257.0" y="1038.0"/><use href="#d" x="1257.9" y="1045.7"/><use href="#d" x="1258.9" y="1052.4"/><use href="#d" x="1259.8" y="1056.7"/><use href="#d" x="1260.7" y="1060.8"/><use href="#d" x="1261.6" y="1064.7"/><use href="#d" x="1262.5" y="1065.1"/><use href="#d" x="1263.4" y="1066.5"/><use href="#d" x="1264.3" y="1067.4"/><use href="#d" x="1265.2" y="1068.1"/><use href="#d" x="1266.1" y="1066.3"/><use href="#d" x="1267.0" y="1067.7"/><use href="#d" x="1267.9" y="1067.7"/><use href="#d" x="1268.9" y="1069.5"/><use href="#d" x="1269.8" y="1070.0"/><use href="#d" x="1270.7" y="1069.4"/><use href="#d" x="1271.6" y="1069.0"/><use href="#d" x="1272.5" y="1069.7"/><use href="#d" x="1273.4" y="1069.6"/><use href="#d" x="1274.3" y="1068.5"/><use href="#d" x="1275.2" y="1069.3"/><use href="#d" x="1276.1" y="1070.7"/><use href="#d" x="1277.1" y="1070.1"/><use href="#d" x="1278.0" y="1070.4"/><use href="#d" x="1278.9" y="1069.6"/><use href="#d" x="1279.8" y="1071.0"/><use href="#d" x="1280.7" y="1070.0"/><use href="#d" x="1281.6" y="1069.2"/><use href="#d" x="1282.5" y="1069.9"/><use href="#d" x="1283.4" y="1070.9"/><use href="#d" x="1284.3" y="1070.6"/><use href="#d" x="1285.2" y="1069.8"/><use href="#d" x="1286.1" y="1069.5"/><use href="#d" x="1287.1" y="1069.1"/><use href="#d" x="1288.0" y="1070.2"/><use href="#d" x="1288.9" y="1071.4"/><use href="#d" x="1289.8" y="1068.6"/><use href="#d" x="1290.7" y="1069.8"/><use href="#d" x="1291.6" y="1069.7"/><use href="#d" x="1292.5" y="1069.8"/><use href="#d" x="1293.4" y="1071.2"/><use href="#d" x="1294.3" y="1070.4"/><use href="#d" x="1295.2" y="1069.8"/><use href="#d" x="1296.2" y="1069.0"/><use href="#d" x="1297.1" y="1070.1"/><use href="#d" x="1298.0" y="1073.4"/><use href="#d" x="1298.9" y="1070.4"/><use href="#d" x="1299.8" y="1069.8"/><use href="#d" x="1300.7" y="1068.8"/><use href="#d" x="1301.6" y="1069.4"/><use href="#d" x="1302.5" y="1067.6"/><use href="#d" x="1303.4" y="1068.7"/><use href="#d" x="1304.4" y="1068.8"/><use href="#d" x="1305.3" y="1069.2"/><use href="#d" x="1306.2" y="1071.6"/><use href="#d" x="1307.1" y="1069.3"/><use href="#d" x="1308.0" y="1069.5"/><use href="#d" x="1308.9" y="1070.7"/><use href="#d" x="1309.8" y="1069.6"/><use href="#d" x="1310.7" y="1069.7"/><use href="#d" x="1311.6" y="1070.7"/><use href="#d" x="1312.5" y="1070.3"/><use href="#d" x="1313.5" y="1070.5"/><use href="#d" x="1314.4" y="1069.9"/><use href="#d" x="1315.3" y="1070.6"/><use href="#d" x="1316.2" y="1069.6"/><use href="#d" x="1317.1" y="1072.2"/><use href="#d" x="1318.0" y="1070.5"/><use href="#d" x="1318.9" y="1071.9"/><use href="#d" x="1319.8" y="1070.7"/><use href="#d" x="1320.7" y="1069.6"/><use href="#d" x="1321.6" y="1070.2"/><use href="#d" x="1322.5" y="1070.3"/><use href="#d" x="1323.5" y="1070.1"/><use href="#d" x="1324.4" y="1068.5"/><use href="#d" x="1325.3" y="1071.3"/><use href="#d" x="1326.2" y="1069.2"/><use href="#d" x="1327.1" y="1071.7"/><use href="#d" x="1328.0" y="1070.6"/><use href="#d" x="1328.9" y="1070.0"/><use href="#d" x="1329.8" y="1071.0"/><use href="#d" x="1330.7" y="1069.9"/><use href="#d" x="1331.6" y="1069.4"/><use href="#d" x="1332.6" y="1071.4"/><use href="#d" x="1333.5" y="1070.2"/><use href="#d" x="1334.4" y="1070.5"/><use href="#d" x="1335.3" y="1072.1"/><use href="#d" x="1336.2" y="1070.3"/><use href="#d" x="1337.1" y="1070.9"/><use href="#d" x="1338.0" y="1068.7"/><use href="#d" x="1338.9" y="1071.0"/><use href="#d" x="1339.8" y="1068.3"/><use href="#d" x="1340.8" y="1070.6"/><use href="#d" x="1341.7" y="1068.0"/><use href="#d" x="1342.6" y="1069.5"/><use href="#d" x="1343.5" y="1069.6"/><use href="#d" x="1344.4" y="1069.2"/><use href="#d" x="1345.3" y="1069.1"/><use href="#d" x="1346.2" y="1068.5"/><use href="#d" x="1347.1" y="1068.2"/><use href="#d" x="1348.0" y="1070.3"/><use href="#d" x="1348.9" y="1071.2"/><use href="#d" x="1349.9" y="1072.7"/><use href="#d" x="1350.8" y="1070.3"/><use href="#d" x="1351.7" y="1069.1"/><use href="#d" x="1352.6" y="1069.4"/><use href="#d" x="1353.5" y="1069.7"/><use href="#d" x="1354.4" y="1070.1"/><use href="#d" x="1355.3" y="1070.3"/><use href="#d" x="1356.2" y="1069.9"/><use href="#d" x="1357.1" y="1069.1"/><use href="#d" x="1358.0" y="1071.3"/><use href="#d" x="1359.0" y="1068.6"/><use href="#d" x="1359.9" y="1070.8"/><use href="#d" x="1360.8" y="1069.3"/><use href="#d" x="1361.7" y="1069.6"/><use href="#d" x="1362.6" y="1069.0"/><use href="#d" x="1363.5" y="1069.3"/><use href="#d" x="1364.4" y="1068.8"/><use href="#d" x="1365.3" y="1067.0"/><use href="#d" x="1366.2" y="1066.6"/><use href="#d" x="1367.1" y="1061.0"/><use href="#d" x="1368.0" y="1061.6"/><use href="#d" x="1369.0" y="1058.9"/><use href="#d" x="1369.9" y="1055.4"/><use href="#d" x="1370.8" y="1052.4"/><use href="#d" x="1371.7" y="1050.8"/><use href="#d" x="1372.6" y="1046.7"/><use href="#d" x="1373.5" y="1046.1"/><use href="#d" x="1374.4" y="1049.8"/><use href="#d" x="1375.3" y="1051.3"/><use href="#d" x="1376.2" y="1056.0"/><use href="#d" x="1377.1" y="1058.2"/><use href="#d" x="1378.1" y="1060.8"/><use href="#d" x="1379.0" y="1063.0"/><use href="#d" x="1379.9" y="1064.9"/><use href="#d" x="1380.8" y="1067.4"/><use href="#d" x="1381.7" y="1066.6"/><use href="#d" x="1382.6" y="1068.6"/><use href="#d" x="1383.5" y="1068.2"/><use href="#d" x="1384.4" y="1068.1"/><use href="#d" x="1385.3" y="1069.3"/><use href="#d" x="1386.2" y="1070.4"/><use href="#d" x="1387.2" y="1068.6"/><use href="#d" x="1388.1" y="1070.4"/><use href="#d" x="1389.0" y="1070.3"/><use href="#d" x="1389.9" y="1070.5"/><use href="#d" x="1390.8" y="1068.5"/><use href="#d" x="1391.7" y="1069.6"/><use href="#d" x="1392.6" y="1071.7"/><use href="#d" x="1393.5" y="1068.5"/><use href="#d" x="1394.4" y="1067.0"/><use href="#d" x="1395.4" y="1067.2"/><use href="#d" x="1396.3" y="1069.4"/><use href="#d" x="1397.2" y="1068.3"/><use href="#d" x="1398.1" y="1067.4"/><use href="#d" x="1399.0" y="1066.5"/><use href="#d" x="1399.9" y="1066.7"/><use href="#d" x="1400.8" y="1067.2"/><use href="#d" x="1401.7" y="1064.7"/><use href="#d" x="1402.6" y="1064.5"/><use href="#d" x="1403.5" y="1066.3"/><use href="#d" x="1404.5" y="1065.5"/><use href="#d" x="1405.4" y="1065.3"/><use href="#d" x="1406.3" y="1066.2"/><use href="#d" x="1407.2" y="1066.3"/><use href="#d" x="1408.1" y="1066.6"/><use href="#d" x="1409.0" y="1067.5"/><use href="#d" x="1409.9" y="1068.6"/><use href="#d" x="1410.8" y="1070.3"/><use href="#d" x="1411.7" y="1068.5"/><use href="#d" x="1412.6" y="1067.9"/><use href="#d" x="1413.5" y="1067.5"/><use href="#d" x="1414.5" y="1069.6"/><use href="#d" x="1415.4" y="1069.7"/><use href="#d" x="1416.3" y="1068.2"/><use href="#d" x="1417.2" y="1068.3"/><use href="#d" x="1418.1" y="1069.4"/><use href="#d" x="1419.0" y="1069.0"/><use href="#d" x="1419.9" y="1070.6"/><use href="#d" x="1420.8" y="1069.2"/><use href="#d" x="1421.7" y="1070.7"/><use href="#d" x="1422.6" y="1070.0"/><use href="#d" x="1423.6" y="1070.0"/><use href="#d" x="1424.5" y="1070.3"/><use href="#d" x="1425.4" y="1072.0"/><use href="#d" x="1426.3" y="1070.7"/><use href="#d" x="1427.2" y="1069.5"/><use href="#d" x="1428.1" y="1069.9"/><use href="#d" x="1429.0" y="1070.2"/><use href="#d" x="1429.9" y="1069.4"/><use href="#d" x="1430.8" y="1069.1"/><use href="#d" x="1431.8" y="1068.9"/><use href="#d" x="1432.7" y="1070.6"/><use href="#d" x="1433.6" y="1069.7"/><use href="#d" x="1434.5" y="1070.1"/><use href="#d" x="1435.4" y="1070.7"/><use href="#d" x="1436.3" y="1071.3"/><use href="#d" x="1437.2" y="1069.8"/><use href="#d" x="1438.1" y="1070.6"/><use href="#d" x="1439.0" y="1067.4"/><use href="#d" x="1439.9" y="1069.8"/><use href="#d" x="1440.9" y="1069.9"/><use href="#d" x="1441.8" y="1070.0"/><use href="#d" x="1442.7" y="1067.7"/><use href="#d" x="1443.6" y="1070.6"/><use href="#d" x="1444.5" y="1069.7"/><use href="#d" x="1445.4" y="1070.3"/><use href="#d" x="1446.3" y="1069.6"/><use href="#d" x="1447.2" y="1069.5"/><use href="#d" x="1448.1" y="1068.3"/><use href="#d" x="1449.0" y="1070.9"/><use href="#d" x="1450.0" y="1069.4"/><use href="#d" x="1450.9" y="1067.6"/><use href="#d" x="1451.8" y="1069.8"/><use href="#d" x="1452.7" y="1069.4"/><use href="#d" x="1453.6" y="1070.1"/><use href="#d" x="1454.5" y="1071.8"/><use href="#d" x="1455.4" y="1069.1"/><use href="#d" x="1456.3" y="1067.7"/><use href="#d" x="1457.2" y="1069.4"/><use href="#d" x="1458.1" y="1070.7"/><use href="#d" x="1459.0" y="1068.4"/><use href="#d" x="1460.0" y="1068.5"/><use href="#d" x="1460.9" y="1067.4"/><use href="#d" x="1461.8" y="1067.4"/><use href="#d" x="1462.7" y="1068.5"/><use href="#d" x="1463.6" y="1067.6"/><use href="#d" x="1464.5" y="1069.8"/><use href="#d" x="1465.4" y="1066.5"/><use href="#d" x="1466.3" y="1067.3"/><use href="#d" x="1467.2" y="1066.1"/><use href="#d" x="1468.1" y="1065.8"/><use href="#d" x="1469.1" y="1066.9"/><use href="#d" x="1470.0" y="1066.4"/><use href="#d" x="1470.9" y="1066.7"/><use href="#d" x="1471.8" y="1067.4"/><use href="#d" x="1472.7" y="1064.7"/><use href="#d" x="1473.6" y="1063.6"/><use href="#d" x="1474.5" y="1063.8"/><use href="#d" x="1475.4" y="1060.4"/><use href="#d" x="1476.3" y="1059.0"/><use href="#d" x="1477.2" y="1055.6"/><use href="#d" x="1478.2" y="1052.6"/><use href="#d" x="1479.1" y="1047.5"/><use href="#d" x="1480.0" y="1036.5"/><use href="#d" x="1480.9" y="1025.7"/><use href="#d" x="1481.8" y="1012.9"/><use href="#d" x="1482.7" y="997.4"/><use href="#d" x="1483.6" y="980.4"/><use href="#d" x="1484.5" y="964.3"/><use href="#d" x="1485.4" y="952.9"/><use href="#d" x="1486.4" y="950.0"/><use href="#d" x="1487.3" y="951.5"/><use href="#d" x="1488.2" y="965.7"/><use href="#d" x="1489.1" y="980.4"/><use href="#d" x="1490.0" y="997.3"/><use href="#d" x="1490.9" y="1012.5"/><use href="#d" x="1491.8" y="1028.0"/><use href="#d" x="1492.7" y="1036.0"/><use href="#d" x="1493.6" y="1044.9"/><use href="#d" x="1494.5" y="1050.9"/><use href="#d" x="1495.5" y="1054.7"/><use href="#d" x="1496.4" y="1059.8"/><use href="#d" x="1497.3" y="1064.3"/><use href="#d" x="1498.2" y="1062.2"/><use href="#d" x="1499.1" y="1062.2"/><use href="#d" x="1500.0" y="1063.2"/><use href="#d" x="1500.9" y="1065.6"/><use href="#d" x="1501.8" y="1065.7"/><use href="#d" x="1502.7" y="1065.7"/><use href="#d" x="1503.6" y="1068.2"/><use href="#d" x="1504.5" y="1067.3"/><use href="#d" x="1505.5" y="1067.5"/><use href="#d" x="1506.4" y="1065.4"/><use href="#d" x="1507.3" y="1067.8"/><use href="#d" x="1508.2" y="1065.5"/><use href="#d" x="1509.1" y="1067.1"/><use href="#d" x="1510.0" y="1068.7"/><use href="#d" x="1510.9" y="1064.4"/><use href="#d" x="1511.8" y="1067.4"/><use href="#d" x="1512.7" y="1065.4"/><use href="#d" x="1513.6" y="1063.9"/><use href="#d" x="1514.6" y="1065.9"/><use href="#d" x="1515.5" y="1066.5"/><use href="#d" x="1516.4" y="1064.2"/><use href="#d" x="1517.3" y="1065.5"/><use href="#d" x="1518.2" y="1067.3"/><use href="#d" x="1519.1" y="1067.7"/><use href="#d" x="1520.0" y="1067.5"/><use href="#d" x="1520.9" y="1066.6"/><use href="#d" x="1521.8" y="1068.3"/><use href="#d" x="1522.8" y="1067.7"/><use href="#d" x="1523.7" y="1066.9"/><use href="#d" x="1524.6" y="1067.5"/><use href="#d" x="1525.5" y="1067.5"/><use href="#d" x="1526.4" y="1067.8"/><use href="#d" x="1527.3" y="1070.8"/><use href="#d" x="1528.2" y="1068.0"/><use href="#d" x="1529.1" y="1068.9"/><use href="#d" x="1530.0" y="1069.5"/><use href="#d" x="1530.9" y="1070.5"/><use href="#d" x="1531.9" y="1071.0"/><use href="#d" x="1532.8" y="1070.6"/><use href="#d" x="1533.7" y="1069.5"/><use href="#d" x="1534.6" y="1070.7"/><use href="#d" x="1535.5" y="1070.3"/><use href="#d" x="1536.4" y="1070.1"/><use href="#d" x="1537.3" y="1068.8"/><use href="#d" x="1538.2" y="1069.8"/><use href="#d" x="1539.1" y="1069.6"/><use href="#d" x="1540.0" y="1068.1"/><use href="#d" x="1541.0" y="1069.8"/><use href="#d" x="1541.9" y="1068.8"/><use href="#d" x="1542.8" y="1070.5"/><use href="#d" x="1543.7" y="1068.9"/><use href="#d" x="1544.6" y="1069.0"/><use href="#d" x="1545.5" y="1068.8"/><use href="#d" x="1546.4" y="1069.2"/><use href="#d" x="1547.3" y="1069.4"/><use href="#d" x="1548.2" y="1068.3"/><use href="#d" x="1549.1" y="1068.0"/><use href="#d" x="1550.0" y="1066.0"/><use href="#d" x="1551.0" y="1065.7"/><use href="#d" x="1551.9" y="1067.6"/><use href="#d" x="1552.8" y="1065.6"/><use href="#d" x="1553.7" y="1066.8"/><use href="#d" x="1554.6" y="1066.2"/><use href="#d" x="1555.5" y="1067.6"/><use href="#d" x="1556.4" y="1069.1"/><use href="#d" x="1557.3" y="1067.0"/><use href="#d" x="1558.2" y="1068.0"/><use href="#d" x="1559.1" y="1070.1"/><use href="#d" x="1560.1" y="1071.0"/><use href="#d" x="1561.0" y="1069.8"/><use href="#d" x="1561.9" y="1070.6"/><use href="#d" x="1562.8" y="1069.9"/><use href="#d" x="1563.7" y="1068.9"/><use href="#d" x="1564.6" y="1068.1"/><use href="#d" x="1565.5" y="1070.0"/><use href="#d" x="1566.4" y="1068.3"/><use href="#d" x="1567.3" y="1068.5"/><use href="#d" x="1568.2" y="1070.2"/><use href="#d" x="1569.2" y="1071.5"/><use href="#d" x="1570.1" y="1068.9"/><use href="#d" x="1571.0" y="1069.1"/><use href="#d" x="1571.9" y="1067.3"/><use href="#d" x="1572.8" y="1068.3"/><use href="#d" x="1573.7" y="1069.0"/><use href="#d" x="1574.6" y="1068.0"/><use href="#d" x="1575.5" y="1070.9"/><use href="#d" x="1576.4" y="1069.6"/><use href="#d" x="1577.4" y="1070.0"/><use href="#d" x="1578.3" y="1067.9"/><use href="#d" x="1579.2" y="1069.1"/><use href="#d" x="1580.1" y="1072.9"/><use href="#d" x="1581.0" y="1068.3"/><use href="#d" x="1581.9" y="1070.6"/><use href="#d" x="1582.8" y="1068.8"/><use href="#d" x="1583.7" y="1070.0"/><use href="#d" x="1584.6" y="1069.0"/><use href="#d" x="1585.5" y="1068.4"/><use href="#d" x="1586.5" y="1068.6"/><use href="#d" x="1587.4" y="1069.5"/><use href="#d" x="1588.3" y="1066.6"/><use href="#d" x="1589.2" y="1067.3"/><use href="#d" x="1590.1" y="1067.3"/><use href="#d" x="1591.0" y="1066.2"/><use href="#d" x="1591.9" y="1067.3"/><use href="#d" x="1592.8" y="1064.8"/><use href="#d" x="1593.7" y="1066.7"/><use href="#d" x="1594.6" y="1066.9"/><use href="#d" x="1595.5" y="1067.3"/><use href="#d" x="1596.5" y="1069.1"/><use href="#d" x="1597.4" y="1069.7"/><use href="#d" x="1598.3" y="1068.6"/><use href="#d" x="1599.2" y="1068.7"/><use href="#d" x="1600.1" y="1067.9"/><use href="#d" x="1601.0" y="1069.0"/><use href="#d" x="1601.9" y="1070.7"/><use href="#d" x="1602.8" y="1069.1"/><use href="#d" x="1603.7" y="1068.8"/><use href="#d" x="1604.6" y="1068.7"/><use href="#d" x="1605.6" y="1069.4"/><use href="#d" x="1606.5" y="1071.1"/><use href="#d" x="1607.4" y="1068.6"/><use href="#d" x="1608.3" y="1070.6"/><use href="#d" x="1609.2" y="1069.2"/><use href="#d" x="1610.1" y="1071.5"/><use href="#d" x="1611.0" y="1069.0"/><use href="#d" x="1611.9" y="1070.7"/><use href="#d" x="1612.8" y="1068.7"/><use href="#d" x="1613.8" y="1068.0"/><use href="#d" x="1614.7" y="1068.6"/><use href="#d" x="1615.6" y="1071.1"/><use href="#d" x="1616.5" y="1070.9"/><use href="#d" x="1617.4" y="1070.8"/><use href="#d" x="1618.3" y="1069.2"/><use href="#d" x="1619.2" y="1069.5"/><use href="#d" x="1620.1" y="1069.7"/><use href="#d" x="1621.0" y="1069.6"/><use href="#d" x="1621.9" y="1069.3"/><use href="#d" x="1622.9" y="1069.2"/><use href="#d" x="1623.8" y="1068.1"/><use href="#d" x="1624.7" y="1069.9"/><use href="#d" x="1625.6" y="1069.7"/><use href="#d" x="1626.5" y="1071.8"/><use href="#d" x="1627.4" y="1071.3"/><use href="#d" x="1628.3" y="1070.6"/><use href="#d" x="1629.2" y="1071.1"/><use href="#d" x="1630.1" y="1069.7"/><use href="#d" x="1631.0" y="1068.8"/><use href="#d" x="1632.0" y="1070.4"/><use href="#d" x="1632.9" y="1070.4"/><use href="#d" x="1633.8" y="1070.4"/><use href="#d" x="1634.7" y="1069.8"/><use href="#d" x="1635.6" y="1070.5"/><use href="#d" x="1636.5" y="1069.5"/></g>
<polyline points="271.5,1068.0 272.4,1068.0 273.3,1068.0 274.2,1068.0 275.1,1068.0 276.1,1068.0 277.0,1068.0 277.9,1068.0 278.8,1068.0 279.7,1068.0 280.6,1068.0 281.5,1068.0 282.4,1068.0 283.3,1068.0 284.2,1068.0 285.2,1068.0 286.1,1068.0 287.0,1068.0 287.9,1068.0 288.8,1068.0 289.7,1068.0 290.6,1068.0 291.5,1068.0 292.4,1068.0 293.3,1068.0 294.2,1068.1 295.2,1068.1 296.1,1068.1 297.0,1068.1 297.9,1068.1 298.8,1068.1 299.7,1068.1 300.6,1068.1 301.5,1068.1 302.4,1068.1 303.3,1068.1 304.3,1068.1 305.2,1068.1 306.1,1068.1 307.0,1068.1 307.9,1068.1 308.8,1068.1 309.7,1068.1 310.6,1068.1 311.5,1068.1 312.5,1068.1 313.4,1068.1 314.3,1068.1 315.2,1068.1 316.1,1068.1 317.0,1068.1 317.9,1068.1 318.8,1068.1 319.7,1068.1 320.6,1068.1 321.6,1068.1 322.5,1068.1 323.4,1068.1 324.3,1068.1 325.2,1068.1 326.1,1068.1 327.0,1068.1 327.9,1068.1 328.8,1068.1 329.7,1068.1 330.7,1068.1 331.6,1068.1 332.5,1068.1 333.4,1068.1 334.3,1068.1 335.2,1068.1 336.1,1068.1 337.0,1068.1 337.9,1068.1 338.8,1068.1 339.8,1068.1 340.7,1068.1 341.6,1068.1 342.5,1068.1 343.4,1068.1 344.3,1068.1 345.2,1068.1 346.1,1068.1 347.0,1068.1 347.9,1068.1 348.8,1068.1 349.8,1068.1 350.7,1068.1 351.6,1068.1 352.5,1068.1 353.4,1068.1 354.3,1068.1 355.2,1068.1 356.1,1068.1 357.0,1068.1 357.9,1068.1 358.9,1068.1 359.8,1068.1 360.7,1068.1 361.6,1068.1 362.5,1068.1 363.4,1068.1 364.3,1068.1 365.2,1068.1 366.1,1068.1 367.1,1068.1 368.0,1068.1 368.9,1068.1 369.8,1068.1 370.7,1068.1 371.6,1068.1 372.5,1068.1 373.4,1068.1 374.3,1068.1 375.2,1068.1 376.2,1068.1 377.1,1068.1 378.0,1068.1 378.9,1068.1 379.8,1068.1 380.7,1068.1 381.6,1068.1 382.5,1068.1 383.4,1068.1 384.3,1068.1 385.2,1068.0 386.2,1068.0 387.1,1068.0 388.0,1068.0 388.9,1068.0 389.8,1067.9 390.7,1067.9 391.6,1067.8 392.5,1067.8 393.4,1067.7 394.3,1067.7 395.3,1067.6 396.2,1067.5 397.1,1067.4 398.0,1067.3 398.9,1067.1 399.8,1066.9 400.7,1066.7 401.6,1066.3 402.5,1065.8 403.4,1065.0 404.4,1063.8 405.3,1062.3 406.2,1060.2 407.1,1057.4 408.0,1054.0 408.9,1050.0 409.8,1045.6 410.7,1041.2 411.6,1037.3 412.6,1034.5 413.5,1033.5 414.4,1034.5 415.3,1037.3 416.2,1041.3 417.1,1045.7 418.0,1050.1 418.9,1054.1 419.8,1057.5 420.7,1060.3 421.7,1062.4 422.6,1064.0 423.5,1065.1 424.4,1065.9 425.3,1066.5 426.2,1066.9 427.1,1067.2 428.0,1067.4 428.9,1067.5 429.8,1067.7 430.8,1067.8 431.7,1067.9 432.6,1068.0 433.5,1068.0 434.4,1068.1 435.3,1068.2 436.2,1068.2 437.1,1068.3 438.0,1068.3 438.9,1068.4 439.8,1068.4 440.8,1068.4 441.7,1068.4 442.6,1068.5 443.5,1068.5 444.4,1068.5 445.3,1068.5 446.2,1068.5 447.1,1068.6 448.0,1068.6 448.9,1068.6 449.9,1068.6 450.8,1068.6 451.7,1068.6 452.6,1068.5 453.5,1068.5 454.4,1068.5 455.3,1068.4 456.2,1068.4 457.1,1068.3 458.1,1068.1 459.0,1067.8 459.9,1067.3 460.8,1066.6 461.7,1065.4 462.6,1063.9 463.5,1062.1 464.4,1060.2 465.3,1058.7 466.2,1058.1 467.2,1058.7 468.1,1060.2 469.0,1062.1 469.9,1063.9 470.8,1065.5 471.7,1066.6 472.6,1067.4 473.5,1067.8 474.4,1068.1 475.3,1068.3 476.2,1068.4 477.2,1068.5 478.1,1068.6 479.0,1068.6 479.9,1068.7 480.8,1068.7 481.7,1068.7 482.6,1068.7 483.5,1068.7 484.4,1068.8 485.3,1068.8 486.3,1068.8 487.2,1068.8 488.1,1068.8 489.0,1068.8 489.9,1068.8 490.8,1068.8 491.7,1068.8 492.6,1068.8 493.5,1068.8 494.4,1068.8 495.4,1068.8 496.3,1068.8 497.2,1068.8 498.1,1068.8 499.0,1068.8 499.9,1068.8 500.8,1068.8 501.7,1068.8 502.6,1068.8 503.6,1068.8 504.5,1068.8 505.4,1068.8 506.3,1068.8 507.2,1068.8 508.1,1068.8 509.0,1068.8 509.9,1068.8 510.8,1068.7 511.7,1068.7 512.7,1068.7 513.6,1068.7 514.5,1068.6 515.4,1068.5 516.3,1068.4 517.2,1068.2 518.1,1067.7 519.0,1067.0 519.9,1066.0 520.8,1064.6 521.8,1062.9 522.7,1061.4 523.6,1060.4 524.5,1060.4 525.4,1061.4 526.3,1062.9 527.2,1064.6 528.1,1066.0 529.0,1067.0 529.9,1067.7 530.8,1068.1 531.8,1068.4 532.7,1068.5 533.6,1068.6 534.5,1068.6 535.4,1068.6 536.3,1068.7 537.2,1068.7 538.1,1068.7 539.0,1068.7 539.9,1068.7 540.9,1068.7 541.8,1068.7 542.7,1068.7 543.6,1068.7 544.5,1068.7 545.4,1068.7 546.3,1068.7 547.2,1068.7 548.1,1068.7 549.1,1068.7 550.0,1068.7 550.9,1068.7 551.8,1068.6 552.7,1068.6 553.6,1068.6 554.5,1068.5 555.4,1068.5 556.3,1068.4 557.2,1068.2 558.2,1067.9 559.1,1067.4 560.0,1066.7 560.9,1065.7 561.8,1064.6 562.7,1063.4 563.6,1062.3 564.5,1061.7 565.4,1061.7 566.3,1062.3 567.2,1063.4 568.2,1064.6 569.1,1065.7 570.0,1066.6 570.9,1067.3 571.8,1067.8 572.7,1068.1 573.6,1068.3 574.5,1068.4 575.4,1068.5 576.3,1068.5 577.3,1068.5 578.2,1068.5 579.1,1068.5 580.0,1068.6 580.9,1068.6 581.8,1068.6 582.7,1068.6 583.6,1068.6 584.5,1068.5 585.4,1068.5 586.4,1068.5 587.3,1068.5 588.2,1068.5 589.1,1068.5 590.0,1068.5 590.9,1068.4 591.8,1068.4 592.7,1068.4 593.6,1068.3 594.6,1068.2 595.5,1068.0 596.4,1067.7 597.3,1067.2 598.2,1066.5 599.1,1065.4 600.0,1064.1 600.9,1062.6 601.8,1061.3 602.7,1060.4 603.7,1060.4 604.6,1061.3 605.5,1062.6 606.4,1064.0 607.3,1065.3 608.2,1066.4 609.1,1067.1 610.0,1067.6 610.9,1067.8 611.8,1068.0 612.8,1068.1 613.7,1068.1 614.6,1068.1 615.5,1068.1 616.4,1068.1 617.3,1068.1 618.2,1068.1 619.1,1068.1 620.0,1068.1 620.9,1068.1 621.8,1068.1 622.8,1068.0 623.7,1068.0 624.6,1068.0 625.5,1067.9 626.4,1067.9 627.3,1067.9 628.2,1067.8 629.1,1067.8 630.0,1067.7 630.9,1067.7 631.9,1067.6 632.8,1067.5 633.7,1067.5 634.6,1067.4 635.5,1067.3 636.4,1067.2 637.3,1067.1 638.2,1067.0 639.1,1066.9 640.1,1066.7 641.0,1066.6 641.9,1066.4 642.8,1066.3 643.7,1066.1 644.6,1065.8 645.5,1065.6 646.4,1065.3 647.3,1065.0 648.2,1064.7 649.2,1064.3 650.1,1063.8 651.0,1063.3 651.9,1062.6 652.8,1061.9 653.7,1061.1 654.6,1060.1 655.5,1058.9 656.4,1057.4 657.3,1055.5 658.2,1053.1 659.2,1049.5 660.1,1043.6 661.0,1032.9 661.9,1012.7 662.8,975.6 663.7,912.8 664.6,817.2 665.5,689.6 666.4,544.1 667.3,410.8 668.3,331.8 669.2,341.3 670.1,434.5 671.0,573.4 671.9,717.2 672.8,839.0 673.7,927.8 674.6,984.8 675.5,1017.8 676.4,1035.6 677.4,1045.1 678.3,1050.3 679.2,1053.6 680.1,1055.9 681.0,1057.7 681.9,1059.1 682.8,1060.3 683.7,1061.3 684.6,1062.1 685.6,1062.8 686.5,1063.4 687.4,1063.9 688.3,1064.3 689.2,1064.7 690.1,1065.1 691.0,1065.4 691.9,1065.6 692.8,1065.9 693.7,1066.1 694.7,1066.3 695.6,1066.5 696.5,1066.6 697.4,1066.8 698.3,1066.9 699.2,1067.0 700.1,1067.1 701.0,1067.2 701.9,1067.3 702.8,1067.4 703.8,1067.5 704.7,1067.5 705.6,1067.6 706.5,1067.7 707.4,1067.7 708.3,1067.8 709.2,1067.8 710.1,1067.9 711.0,1067.9 711.9,1067.9 712.8,1068.0 713.8,1068.0 714.7,1068.0 715.6,1068.0 716.5,1068.1 717.4,1068.1 718.3,1068.1 719.2,1068.1 720.1,1068.1 721.0,1068.1 721.9,1068.1 722.9,1068.1 723.8,1068.1 724.7,1068.1 725.6,1068.1 726.5,1068.1 727.4,1068.0 728.3,1068.0 729.2,1067.9 730.1,1067.8 731.1,1067.6 732.0,1067.3 732.9,1067.0 733.8,1066.4 734.7,1065.7 735.6,1064.7 736.5,1063.5 737.4,1062.1 738.3,1060.5 739.2,1059.0 740.2,1057.8 741.1,1057.1 742.0,1057.1 742.9,1057.8 743.8,1059.1 744.7,1060.5 745.6,1062.1 746.5,1063.5 747.4,1064.7 748.3,1065.7 749.2,1066.5 750.2,1067.0 751.1,1067.4 752.0,1067.7 752.9,1067.8 753.8,1068.0 754.7,1068.0 755.6,1068.1 756.5,1068.1 757.4,1068.1 758.3,1068.1 759.3,1068.1 760.2,1068.1 761.1,1068.1 762.0,1068.0 762.9,1068.0 763.8,1067.8 764.7,1067.6 765.6,1067.3 766.5,1066.8 767.4,1066.2 768.4,1065.3 769.3,1064.2 770.2,1062.9 771.1,1061.4 772.0,1059.9 772.9,1058.5 773.8,1057.5 774.7,1057.2 775.6,1057.6 776.6,1058.6 777.5,1060.0 778.4,1061.5 779.3,1063.0 780.2,1064.4 781.1,1065.5 782.0,1066.4 782.9,1067.0 783.8,1067.5 784.7,1067.8 785.6,1068.1 786.6,1068.2 787.5,1068.4 788.4,1068.4 789.3,1068.5 790.2,1068.6 791.1,1068.6 792.0,1068.6 792.9,1068.7 793.8,1068.7 794.8,1068.7 795.7,1068.7 796.6,1068.8 797.5,1068.8 798.4,1068.8 799.3,1068.8 800.2,1068.8 801.1,1068.8 802.0,1068.8 802.9,1068.8 803.9,1068.8 804.8,1068.8 805.7,1068.8 806.6,1068.8 807.5,1068.8 808.4,1068.8 809.3,1068.8 810.2,1068.8 811.1,1068.8 812.0,1068.7 812.9,1068.7 813.9,1068.7 814.8,1068.7 815.7,1068.6 816.6,1068.6 817.5,1068.5 818.4,1068.4 819.3,1068.4 820.2,1068.3 821.1,1068.2 822.1,1068.1 823.0,1067.9 823.9,1067.7 824.8,1067.5 825.7,1067.3 826.6,1066.9 827.5,1066.5 828.4,1065.8 829.3,1064.8 830.2,1063.3 831.1,1060.8 832.1,1057.0 833.0,1051.6 833.9,1044.4 834.8,1035.5 835.7,1025.9 836.6,1017.0 837.5,1011.5 838.4,1011.6 839.3,1017.1 840.2,1025.9 841.2,1035.6 842.1,1044.5 843.0,1051.7 843.9,1057.1 844.8,1060.9 845.7,1063.4 846.6,1065.0 847.5,1066.0 848.4,1066.7 849.4,1067.1 850.3,1067.5 851.2,1067.8 852.1,1068.0 853.0,1068.2 853.9,1068.3 854.8,1068.5 855.7,1068.6 856.6,1068.7 857.5,1068.8 858.4,1068.9 859.4,1068.9 860.3,1069.0 861.2,1069.0 862.1,1069.1 863.0,1069.1 863.9,1069.1 864.8,1069.1 865.7,1069.1 866.6,1069.1 867.6,1069.1 868.5,1069.0 869.4,1068.9 870.3,1068.7 871.2,1068.4 872.1,1067.9 873.0,1067.2 873.9,1066.4 874.8,1065.5 875.7,1064.6 876.6,1064.0 877.6,1063.7 878.5,1064.0 879.4,1064.7 880.3,1065.6 881.2,1066.6 882.1,1067.4 883.0,1068.1 883.9,1068.6 884.8,1069.0 885.8,1069.2 886.7,1069.4 887.6,1069.5 888.5,1069.6 889.4,1069.7 890.3,1069.7 891.2,1069.7 892.1,1069.8 893.0,1069.8 893.9,1069.8 894.9,1069.8 895.8,1069.9 896.7,1069.9 897.6,1069.9 898.5,1069.9 899.4,1069.9 900.3,1070.0 901.2,1070.0 902.1,1070.0 903.0,1070.0 903.9,1070.0 904.9,1070.0 905.8,1070.0 906.7,1070.0 907.6,1070.0 908.5,1070.1 909.4,1070.1 910.3,1070.1 911.2,1070.1 912.1,1070.1 913.1,1070.1 914.0,1070.1 914.9,1070.1 915.8,1070.1 916.7,1070.1 917.6,1070.1 918.5,1070.1 919.4,1070.1 920.3,1070.1 921.2,1070.1 922.1,1070.1 923.1,1070.1 924.0,1070.1 924.9,1070.0 925.8,1070.0 926.7,1070.0 927.6,1070.0 928.5,1070.0 929.4,1070.0 930.3,1070.0 931.2,1070.0 932.2,1070.0 933.1,1070.0 934.0,1069.9 934.9,1069.9 935.8,1069.9 936.7,1069.9 937.6,1069.8 938.5,1069.7 939.4,1069.6 940.4,1069.4 941.3,1069.2 942.2,1068.8 943.1,1068.2 944.0,1067.5 944.9,1066.7 945.8,1065.9 946.7,1065.1 947.6,1064.7 948.5,1064.7 949.4,1065.1 950.4,1065.8 951.3,1066.7 952.2,1067.5 953.1,1068.1 954.0,1068.7 954.9,1069.0 955.8,1069.3 956.7,1069.4 957.6,1069.5 958.6,1069.6 959.5,1069.6 960.4,1069.6 961.3,1069.6 962.2,1069.6 963.1,1069.6 964.0,1069.6 964.9,1069.5 965.8,1069.5 966.7,1069.4 967.6,1069.4 968.6,1069.3 969.5,1069.3 970.4,1069.2 971.3,1069.1 972.2,1069.0 973.1,1068.8 974.0,1068.7 974.9,1068.5 975.8,1068.2 976.8,1068.0 977.7,1067.6 978.6,1067.1 979.5,1066.4 980.4,1065.4 981.3,1063.7 982.2,1061.1 983.1,1057.2 984.0,1051.5 984.9,1043.9 985.9,1034.6 986.8,1024.5 987.7,1015.2 988.6,1009.5 989.5,1009.5 990.4,1015.2 991.3,1024.5 992.2,1034.6 993.1,1043.9 994.0,1051.5 994.9,1057.2 995.9,1061.1 996.8,1063.7 997.7,1065.3 998.6,1066.4 999.5,1067.1 1000.4,1067.6 1001.3,1067.9 1002.2,1068.2 1003.1,1068.4 1004.1,1068.6 1005.0,1068.8 1005.9,1068.9 1006.8,1069.0 1007.7,1069.1 1008.6,1069.1 1009.5,1069.2 1010.4,1069.2 1011.3,1069.3 1012.2,1069.3 1013.1,1069.3 1014.1,1069.2 1015.0,1069.2 1015.9,1069.0 1016.8,1068.8 1017.7,1068.5 1018.6,1068.0 1019.5,1067.3 1020.4,1066.4 1021.3,1065.4 1022.2,1064.2 1023.2,1063.0 1024.1,1062.0 1025.0,1061.5 1025.9,1061.5 1026.8,1062.1 1027.7,1063.1 1028.6,1064.3 1029.5,1065.5 1030.4,1066.6 1031.3,1067.5 1032.3,1068.2 1033.2,1068.7 1034.1,1069.1 1035.0,1069.3 1035.9,1069.5 1036.8,1069.6 1037.7,1069.7 1038.6,1069.8 1039.5,1069.8 1040.4,1069.9 1041.4,1069.9 1042.3,1069.9 1043.2,1069.9 1044.1,1070.0 1045.0,1070.0 1045.9,1070.0 1046.8,1070.0 1047.7,1070.0 1048.6,1070.0 1049.6,1070.0 1050.5,1070.0 1051.4,1070.0 1052.3,1070.1 1053.2,1070.1 1054.1,1070.1 1055.0,1070.1 1055.9,1070.1 1056.8,1070.1 1057.7,1070.1 1058.6,1070.1 1059.6,1070.1 1060.5,1070.1 1061.4,1070.1 1062.3,1070.1 1063.2,1070.1 1064.1,1070.1 1065.0,1070.1 1065.9,1070.1 1066.8,1070.1 1067.8,1070.1 1068.7,1070.1 1069.6,1070.1 1070.5,1070.0 1071.4,1070.0 1072.3,1070.0 1073.2,1070.0 1074.1,1070.0 1075.0,1070.0 1075.9,1070.0 1076.9,1070.0 1077.8,1070.0 1078.7,1070.0 1079.6,1070.0 1080.5,1069.9 1081.4,1069.9 1082.3,1069.9 1083.2,1069.9 1084.1,1069.9 1085.0,1069.8 1085.9,1069.8 1086.9,1069.8 1087.8,1069.8 1088.7,1069.7 1089.6,1069.7 1090.5,1069.7 1091.4,1069.6 1092.3,1069.6 1093.2,1069.5 1094.1,1069.5 1095.1,1069.4 1096.0,1069.3 1096.9,1069.2 1097.8,1069.2 1098.7,1069.0 1099.6,1068.9 1100.5,1068.8 1101.4,1068.6 1102.3,1068.3 1103.2,1067.9 1104.1,1067.4 1105.1,1066.8 1106.0,1065.9 1106.9,1064.7 1107.8,1063.2 1108.7,1061.3 1109.6,1059.2 1110.5,1056.7 1111.4,1054.2 1112.3,1051.7 1113.2,1049.7 1114.2,1048.3 1115.1,1047.9 1116.0,1048.3 1116.9,1049.2 1117.8,1050.3 1118.7,1050.8 1119.6,1049.6 1120.5,1045.0 1121.4,1034.3 1122.4,1014.4 1123.3,983.8 1124.2,944.5 1125.1,904.5 1126.0,877.7 1126.9,878.0 1127.8,905.4 1128.7,946.2 1129.6,986.4 1130.5,1018.2 1131.4,1039.5 1132.4,1052.0 1133.3,1058.7 1134.2,1062.1 1135.1,1064.0 1136.0,1065.1 1136.9,1065.9 1137.8,1066.6 1138.7,1067.0 1139.6,1067.4 1140.6,1067.8 1141.5,1068.0 1142.4,1068.3 1143.3,1068.4 1144.2,1068.6 1145.1,1068.7 1146.0,1068.8 1146.9,1068.9 1147.8,1069.0 1148.7,1069.0 1149.6,1069.0 1150.6,1068.9 1151.5,1068.8 1152.4,1068.6 1153.3,1068.4 1154.2,1068.1 1155.1,1067.8 1156.0,1067.4 1156.9,1067.2 1157.8,1067.0 1158.8,1067.1 1159.7,1067.3 1160.6,1067.6 1161.5,1068.0 1162.4,1068.3 1163.3,1068.7 1164.2,1069.0 1165.1,1069.3 1166.0,1069.5 1166.9,1069.6 1167.9,1069.7 1168.8,1069.8 1169.7,1069.8 1170.6,1069.9 1171.5,1069.9 1172.4,1069.9 1173.3,1069.9 1174.2,1069.9 1175.1,1069.9 1176.0,1069.9 1176.9,1069.9 1177.9,1069.9 1178.8,1069.8 1179.7,1069.7 1180.6,1069.6 1181.5,1069.4 1182.4,1069.2 1183.3,1069.0 1184.2,1068.6 1185.1,1068.3 1186.1,1068.1 1187.0,1067.8 1187.9,1067.8 1188.8,1067.9 1189.7,1068.1 1190.6,1068.3 1191.5,1068.7 1192.4,1069.0 1193.3,1069.3 1194.2,1069.5 1195.1,1069.7 1196.1,1069.8 1197.0,1069.9 1197.9,1069.9 1198.8,1070.0 1199.7,1070.0 1200.6,1070.0 1201.5,1070.0 1202.4,1070.1 1203.3,1070.1 1204.2,1070.1 1205.2,1070.1 1206.1,1070.0 1207.0,1070.0 1207.9,1070.0 1208.8,1070.0 1209.7,1070.0 1210.6,1070.0 1211.5,1070.0 1212.4,1070.0 1213.4,1069.9 1214.3,1069.9 1215.2,1069.9 1216.1,1069.8 1217.0,1069.8 1217.9,1069.7 1218.8,1069.5 1219.7,1069.3 1220.6,1069.1 1221.5,1068.7 1222.4,1068.3 1223.4,1067.8 1224.3,1067.2 1225.2,1066.6 1226.1,1066.0 1227.0,1065.6 1227.9,1065.4 1228.8,1065.5 1229.7,1065.9 1230.6,1066.3 1231.6,1066.9 1232.5,1067.4 1233.4,1067.8 1234.3,1068.2 1235.2,1068.4 1236.1,1068.5 1237.0,1068.6 1237.9,1068.6 1238.8,1068.5 1239.7,1068.4 1240.6,1068.2 1241.6,1067.9 1242.5,1067.5 1243.4,1067.0 1244.3,1066.2 1245.2,1065.0 1246.1,1063.2 1247.0,1060.5 1247.9,1056.8 1248.8,1052.0 1249.8,1045.9 1250.7,1039.0 1251.6,1031.9 1252.5,1025.7 1253.4,1022.0 1254.3,1022.0 1255.2,1025.7 1256.1,1031.9 1257.0,1039.0 1257.9,1045.9 1258.9,1052.0 1259.8,1056.9 1260.7,1060.6 1261.6,1063.3 1262.5,1065.1 1263.4,1066.3 1264.3,1067.1 1265.2,1067.7 1266.1,1068.1 1267.0,1068.4 1267.9,1068.6 1268.9,1068.8 1269.8,1069.0 1270.7,1069.1 1271.6,1069.2 1272.5,1069.3 1273.4,1069.4 1274.3,1069.5 1275.2,1069.5 1276.1,1069.6 1277.1,1069.7 1278.0,1069.7 1278.9,1069.7 1279.8,1069.8 1280.7,1069.8 1281.6,1069.8 1282.5,1069.9 1283.4,1069.9 1284.3,1069.9 1285.2,1069.9 1286.1,1070.0 1287.1,1070.0 1288.0,1070.0 1288.9,1070.0 1289.8,1070.0 1290.7,1070.0 1291.6,1070.0 1292.5,1070.1 1293.4,1070.1 1294.3,1070.1 1295.2,1070.1 1296.2,1070.1 1297.1,1070.1 1298.0,1070.1 1298.9,1070.1 1299.8,1070.1 1300.7,1070.1 1301.6,1070.1 1302.5,1070.1 1303.4,1070.1 1304.4,1070.1 1305.3,1070.1 1306.2,1070.1 1307.1,1070.1 1308.0,1070.2 1308.9,1070.2 1309.8,1070.2 1310.7,1070.2 1311.6,1070.2 1312.5,1070.2 1313.5,1070.2 1314.4,1070.2 1315.3,1070.2 1316.2,1070.2 1317.1,1070.2 1318.0,1070.2 1318.9,1070.2 1319.8,1070.2 1320.7,1070.2 1321.6,1070.2 1322.5,1070.2 1323.5,1070.2 1324.4,1070.2 1325.3,1070.1 1326.2,1070.1 1327.1,1070.1 1328.0,1070.1 1328.9,1070.1 1329.8,1070.1 1330.7,1070.1 1331.6,1070.1 1332.6,1070.1 1333.5,1070.1 1334.4,1070.1 1335.3,1070.1 1336.2,1070.1 1337.1,1070.1 1338.0,1070.1 1338.9,1070.1 1339.8,1070.1 1340.8,1070.1 1341.7,1070.0 1342.6,1070.0 1343.5,1070.0 1344.4,1070.0 1345.3,1070.0 1346.2,1070.0 1347.1,1070.0 1348.0,1069.9 1348.9,1069.9 1349.9,1069.9 1350.8,1069.9 1351.7,1069.8 1352.6,1069.8 1353.5,1069.8 1354.4,1069.7 1355.3,1069.7 1356.2,1069.6 1357.1,1069.5 1358.0,1069.5 1359.0,1069.4 1359.9,1069.2 1360.8,1069.1 1361.7,1068.9 1362.6,1068.6 1363.5,1068.2 1364.4,1067.6 1365.3,1066.7 1366.2,1065.4 1367.1,1063.6 1368.0,1061.2 1369.0,1058.2 1369.9,1054.8 1370.8,1051.3 1371.7,1048.2 1372.6,1046.4 1373.5,1046.4 1374.4,1048.2 1375.3,1051.3 1376.2,1054.7 1377.1,1058.1 1378.1,1061.1 1379.0,1063.5 1379.9,1065.3 1380.8,1066.6 1381.7,1067.5 1382.6,1068.1 1383.5,1068.5 1384.4,1068.8 1385.3,1068.9 1386.2,1069.1 1387.2,1069.2 1388.1,1069.3 1389.0,1069.3 1389.9,1069.3 1390.8,1069.4 1391.7,1069.4 1392.6,1069.3 1393.5,1069.3 1394.4,1069.2 1395.4,1069.0 1396.3,1068.7 1397.2,1068.4 1398.1,1067.9 1399.0,1067.4 1399.9,1066.7 1400.8,1066.1 1401.7,1065.5 1402.6,1065.1 1403.5,1064.9 1404.5,1065.1 1405.4,1065.5 1406.3,1066.1 1407.2,1066.8 1408.1,1067.4 1409.0,1068.0 1409.9,1068.5 1410.8,1068.9 1411.7,1069.1 1412.6,1069.3 1413.5,1069.5 1414.5,1069.6 1415.4,1069.6 1416.3,1069.7 1417.2,1069.7 1418.1,1069.7 1419.0,1069.8 1419.9,1069.8 1420.8,1069.8 1421.7,1069.8 1422.6,1069.8 1423.6,1069.8 1424.5,1069.8 1425.4,1069.8 1426.3,1069.8 1427.2,1069.8 1428.1,1069.8 1429.0,1069.8 1429.9,1069.8 1430.8,1069.7 1431.8,1069.7 1432.7,1069.7 1433.6,1069.7 1434.5,1069.7 1435.4,1069.7 1436.3,1069.7 1437.2,1069.7 1438.1,1069.6 1439.0,1069.6 1439.9,1069.6 1440.9,1069.6 1441.8,1069.6 1442.7,1069.5 1443.6,1069.5 1444.5,1069.5 1445.4,1069.5 1446.3,1069.4 1447.2,1069.4 1448.1,1069.4 1449.0,1069.3 1450.0,1069.3 1450.9,1069.2 1451.8,1069.2 1452.7,1069.1 1453.6,1069.1 1454.5,1069.0 1455.4,1068.9 1456.3,1068.9 1457.2,1068.8 1458.1,1068.7 1459.0,1068.6 1460.0,1068.5 1460.9,1068.4 1461.8,1068.2 1462.7,1068.1 1463.6,1067.9 1464.5,1067.7 1465.4,1067.5 1466.3,1067.3 1467.2,1067.0 1468.1,1066.7 1469.1,1066.4 1470.0,1065.9 1470.9,1065.5 1471.8,1064.9 1472.7,1064.2 1473.6,1063.3 1474.5,1062.2 1475.4,1060.6 1476.3,1058.4 1477.2,1055.2 1478.2,1050.7 1479.1,1044.2 1480.0,1035.4 1480.9,1023.8 1481.8,1009.4 1482.7,992.7 1483.6,974.8 1484.5,957.9 1485.4,945.4 1486.4,940.7 1487.3,945.4 1488.2,957.9 1489.1,974.7 1490.0,992.6 1490.9,1009.4 1491.8,1023.7 1492.7,1035.3 1493.6,1044.2 1494.5,1050.6 1495.5,1055.2 1496.4,1058.3 1497.3,1060.5 1498.2,1062.1 1499.1,1063.2 1500.0,1064.1 1500.9,1064.7 1501.8,1065.3 1502.7,1065.8 1503.6,1066.1 1504.5,1066.4 1505.5,1066.7 1506.4,1066.9 1507.3,1067.0 1508.2,1067.0 1509.1,1067.0 1510.0,1066.8 1510.9,1066.6 1511.8,1066.3 1512.7,1065.9 1513.6,1065.6 1514.6,1065.3 1515.5,1065.1 1516.4,1065.2 1517.3,1065.5 1518.2,1066.0 1519.1,1066.5 1520.0,1067.0 1520.9,1067.5 1521.8,1067.9 1522.8,1068.3 1523.7,1068.6 1524.6,1068.8 1525.5,1068.9 1526.4,1069.0 1527.3,1069.1 1528.2,1069.2 1529.1,1069.2 1530.0,1069.3 1530.9,1069.3 1531.9,1069.4 1532.8,1069.4 1533.7,1069.4 1534.6,1069.4 1535.5,1069.4 1536.4,1069.5 1537.3,1069.5 1538.2,1069.5 1539.1,1069.5 1540.0,1069.5 1541.0,1069.4 1541.9,1069.4 1542.8,1069.4 1543.7,1069.3 1544.6,1069.1 1545.5,1068.9 1546.4,1068.7 1547.3,1068.3 1548.2,1067.9 1549.1,1067.5 1550.0,1067.0 1551.0,1066.6 1551.9,1066.3 1552.8,1066.2 1553.7,1066.3 1554.6,1066.6 1555.5,1067.1 1556.4,1067.5 1557.3,1068.0 1558.2,1068.4 1559.1,1068.8 1560.1,1069.0 1561.0,1069.3 1561.9,1069.4 1562.8,1069.5 1563.7,1069.6 1564.6,1069.6 1565.5,1069.7 1566.4,1069.7 1567.3,1069.7 1568.2,1069.7 1569.2,1069.7 1570.1,1069.7 1571.0,1069.7 1571.9,1069.8 1572.8,1069.8 1573.7,1069.8 1574.6,1069.8 1575.5,1069.8 1576.4,1069.8 1577.4,1069.7 1578.3,1069.7 1579.2,1069.7 1580.1,1069.7 1581.0,1069.7 1581.9,1069.6 1582.8,1069.6 1583.7,1069.5 1584.6,1069.3 1585.5,1069.1 1586.5,1068.8 1587.4,1068.5 1588.3,1068.1 1589.2,1067.7 1590.1,1067.3 1591.0,1066.9 1591.9,1066.7 1592.8,1066.7 1593.7,1066.9 1594.6,1067.3 1595.5,1067.7 1596.5,1068.1 1597.4,1068.5 1598.3,1068.8 1599.2,1069.1 1600.1,1069.3 1601.0,1069.5 1601.9,1069.6 1602.8,1069.7 1603.7,1069.7 1604.6,1069.8 1605.6,1069.8 1606.5,1069.8 1607.4,1069.8 1608.3,1069.8 1609.2,1069.8 1610.1,1069.8 1611.0,1069.9 1611.9,1069.9 1612.8,1069.9 1613.8,1069.9 1614.7,1069.9 1615.6,1069.9 1616.5,1069.9 1617.4,1069.9 1618.3,1069.9 1619.2,1069.9 1620.1,1069.9 1621.0,1069.9 1621.9,1069.9 1622.9,1069.9 1623.8,1069.9 1624.7,1069.9 1625.6,1069.9 1626.5,1069.9 1627.4,1069.9 1628.3,1069.9 1629.2,1069.9 1630.1,1069.9 1631.0,1069.9 1632.0,1069.9 1632.9,1069.9 1633.8,1069.9 1634.7,1069.9 1635.6,1069.9 1636.5,1069.9" fill="none" stroke="#848484" stroke-width="5.8" stroke-linejoin="round"/>
<text font-family="Liberation Serif, serif" fill="#000" stroke="#fff" stroke-width="0.5"><tspan x="112.25" y="1195.59" font-size="46.50" textLength="122.52" lengthAdjust="spacingAndGlyphs">-2,500</tspan></text>
<text font-family="Liberation Serif, serif" fill="#000" stroke="#fff" stroke-width="0.5"><tspan x="211.38" y="1095.70" font-size="46.50" textLength="23.72" lengthAdjust="spacingAndGlyphs">0</tspan></text>
<text font-family="Liberation Serif, serif" fill="#000" stroke="#fff" stroke-width="0.5"><tspan x="128.38" y="995.81" font-size="46.50" textLength="106.72" lengthAdjust="spacingAndGlyphs">2,500</tspan></text>
<text font-family="Liberation Serif, serif" fill="#000" stroke="#fff" stroke-width="0.5"><tspan x="128.38" y="895.92" font-size="46.50" textLength="106.72" lengthAdjust="spacingAndGlyphs">5,000</tspan></text>
<text font-family="Liberation Serif, serif" fill="#000" stroke="#fff" stroke-width="0.5"><tspan x="128.38" y="796.03" font-size="46.50" textLength="106.72" lengthAdjust="spacingAndGlyphs">7,500</tspan></text>
<text font-family="Liberation Serif, serif" fill="#000" stroke="#fff" stroke-width="0.5"><tspan x="104.66" y="696.14" font-size="46.50" textLength="130.43" lengthAdjust="spacingAndGlyphs">10,000</tspan></text>
<text font-family="Liberation Serif, serif" fill="#000" stroke="#fff" stroke-width="0.5"><tspan x="104.66" y="596.25" font-size="46.50" textLength="130.43" lengthAdjust="spacingAndGlyphs">12,500</tspan></text>
<text font-family="Liberation Serif, serif" fill="#000" stroke="#fff" stroke-width="0.5"><tspan x="104.66" y="496.36" font-size="46.50" textLength="130.43" lengthAdjust="spacingAndGlyphs">15,000</tspan></text>
<text font-family="Liberation Serif, serif" fill="#000" stroke="#fff" stroke-width="0.5"><tspan x="104.66" y="396.47" font-size="46.50" textLength="130.43" lengthAdjust="spacingAndGlyphs">17,500</tspan></text>
<text font-family="Liberation Serif, serif" fill="#000" stroke="#fff" stroke-width="0.5"><tspan x="104.66" y="296.58" font-size="46.50" textLength="130.43" lengthAdjust="spacingAndGlyphs">20,000</tspan></text>
<text font-family="Liberation Serif, serif" fill="#000" stroke="#fff" stroke-width="0.5"><tspan x="104.66" y="196.69" font-size="46.50" textLength="130.43" lengthAdjust="spacingAndGlyphs">22,500</tspan></text>
<text font-family="Liberation Serif, serif" fill="#000" stroke="#fff" stroke-width="0.5"><tspan x="104.66" y="96.80" font-size="46.50" textLength="130.43" lengthAdjust="spacingAndGlyphs">25,000</tspan></text>
<text font-family="Liberation Serif, serif" fill="#000" stroke="#fff" stroke-width="0.5"><tspan x="248.50" y="1254.30" font-size="48.00" textLength="48.00" lengthAdjust="spacingAndGlyphs">15</tspan></text>
<text font-family="Liberation Serif, serif" fill="#000" stroke="#fff" stroke-width="0.5"><tspan x="476.00" y="1254.30" font-size="48.00" textLength="48.00" lengthAdjust="spacingAndGlyphs">20</tspan></text>
<text font-family="Liberation Serif, serif" fill="#000" stroke="#fff" stroke-width="0.5"><tspan x="703.50" y="1254.30" font-size="48.00" textLength="48.00" lengthAdjust="spacingAndGlyphs">25</tspan></text>
<text font-family="Liberation Serif, serif" fill="#000" stroke="#fff" stroke-width="0.5"><tspan x="931.00" y="1254.30" font-size="48.00" textLength="48.00" lengthAdjust="spacingAndGlyphs">30</tspan></text>
<text font-family="Liberation Serif, serif" fill="#000" stroke="#fff" stroke-width="0.5"><tspan x="1158.50" y="1254.30" font-size="48.00" textLength="48.00" lengthAdjust="spacingAndGlyphs">35</tspan></text>
<text font-family="Liberation Serif, serif" fill="#000" stroke="#fff" stroke-width="0.5"><tspan x="1386.00" y="1254.30" font-size="48.00" textLength="48.00" lengthAdjust="spacingAndGlyphs">40</tspan></text>
<text font-family="Liberation Serif, serif" fill="#000" stroke="#fff" stroke-width="0.5"><tspan x="1613.50" y="1254.30" font-size="48.00" textLength="48.00" lengthAdjust="spacingAndGlyphs">45</tspan></text>
<text font-family="Liberation Serif, serif" fill="#000" stroke="#fff" stroke-width="0.5" transform="translate(82.7,741.8) rotate(-90)"><tspan x="-1.89" y="0.00" font-size="64.50" textLength="220.06" lengthAdjust="spacingAndGlyphs">Intensity</tspan></text>
<text font-family="Liberation Serif, serif" fill="#000" stroke="#fff" stroke-width="0.5"><tspan x="900.43" y="1330.70" font-size="57.50" textLength="106.27" lengthAdjust="spacingAndGlyphs">2θ/°</tspan></text>
<use href="#d" x="1193.4" y="136.4"/>
<line x1="1137.5" y1="213.6" x2="1257.5" y2="213.6" stroke="#808080" stroke-width="5.8"/>
<line x1="1137.5" y1="293.8" x2="1257.5" y2="293.8" stroke="#bb1a1e" stroke-width="5.4"/>
<text font-family="Liberation Serif, serif" fill="#000" stroke="#fff" stroke-width="0.5"><tspan x="1263.74" y="153.30" font-size="49.50" textLength="295.87" lengthAdjust="spacingAndGlyphs">Observed data</tspan></text>
<text font-family="Liberation Serif, serif" fill="#000" stroke="#fff" stroke-width="0.5"><tspan x="1268.13" y="229.80" font-size="49.50" textLength="306.07" lengthAdjust="spacingAndGlyphs">Caculated data</tspan></text>
<text font-family="Liberation Serif, serif" fill="#000" stroke="#fff" stroke-width="0.5"><tspan x="1268.64" y="309.70" font-size="49.50" textLength="331.70" lengthAdjust="spacingAndGlyphs">Differential line</tspan></text>
<text font-family="Liberation Serif, serif" fill="#921a22" stroke="#fff" stroke-width="0.25"><tspan x="1284.90" y="418.80" font-size="57.00" textLength="36.32" lengthAdjust="spacingAndGlyphs" font-weight="bold" font-style="italic">R</tspan><tspan x="1320.90" y="435.00" font-size="37.50" textLength="49.90" lengthAdjust="spacingAndGlyphs" font-weight="bold">wp</tspan><tspan x="1369.52" y="419.20" font-size="57.00" textLength="220.06" lengthAdjust="spacingAndGlyphs" font-weight="bold">=12.48%</tspan></text>
<text font-family="Liberation Serif, serif" fill="#921a22" stroke="#fff" stroke-width="0.5"><tspan x="1286.92" y="518.00" font-size="57.00" textLength="25.42" lengthAdjust="spacingAndGlyphs" font-style="italic">χ</tspan><tspan x="1312.44" y="490.40" font-size="30.00" textLength="19.51" lengthAdjust="spacingAndGlyphs">2</tspan><tspan x="1330.24" y="518.00" font-size="57.00" textLength="132.14" lengthAdjust="spacingAndGlyphs">=2.51</tspan></text>
<text font-family="Liberation Serif, serif" fill="#1e1e8c" stroke="#fff" stroke-width="0.5"><tspan x="614.25" y="243.60" font-size="54.00" textLength="28.10" lengthAdjust="spacingAndGlyphs">o</tspan><tspan x="648.62" y="243.60" font-size="63.00" textLength="42.46" lengthAdjust="spacingAndGlyphs">&amp;</tspan><tspan x="699.16" y="243.60" font-size="54.00" textLength="25.91" lengthAdjust="spacingAndGlyphs">c</tspan></text>
<text font-family="Liberation Serif, serif" fill="#1e1e8c" stroke="#fff" stroke-width="0.5"><tspan x="420.85" y="761.60" font-size="54.00" textLength="28.10" lengthAdjust="spacingAndGlyphs">o</tspan><tspan x="455.22" y="761.60" font-size="63.00" textLength="42.46" lengthAdjust="spacingAndGlyphs">&amp;</tspan><tspan x="505.76" y="761.60" font-size="54.00" textLength="25.91" lengthAdjust="spacingAndGlyphs">c</tspan></text>
<text font-family="Liberation Serif, serif" fill="#1e1e8c" stroke="#fff" stroke-width="0.5"><tspan x="933.85" y="742.00" font-size="54.00" textLength="28.10" lengthAdjust="spacingAndGlyphs">o</tspan><tspan x="968.22" y="742.00" font-size="63.00" textLength="42.46" lengthAdjust="spacingAndGlyphs">&amp;</tspan><tspan x="1018.76" y="742.00" font-size="54.00" textLength="25.91" lengthAdjust="spacingAndGlyphs">c</tspan></text>
<text font-family="Liberation Serif, serif" fill="#1e1e8c" stroke="#fff" stroke-width="0.5"><tspan x="1064.25" y="819.00" font-size="54.00" textLength="28.10" lengthAdjust="spacingAndGlyphs">o</tspan><tspan x="1098.62" y="819.00" font-size="63.00" textLength="42.46" lengthAdjust="spacingAndGlyphs">&amp;</tspan><tspan x="1149.16" y="819.00" font-size="54.00" textLength="25.91" lengthAdjust="spacingAndGlyphs">c</tspan></text>
<text font-family="Liberation Serif, serif" fill="#1e1e8c" stroke="#fff" stroke-width="0.5"><tspan x="1318.15" y="789.00" font-size="54.00" textLength="28.10" lengthAdjust="spacingAndGlyphs">o</tspan><tspan x="1352.52" y="789.00" font-size="63.00" textLength="42.46" lengthAdjust="spacingAndGlyphs">&amp;</tspan><tspan x="1403.06" y="789.00" font-size="54.00" textLength="25.91" lengthAdjust="spacingAndGlyphs">c</tspan></text>
<text font-family="Liberation Serif, serif" fill="#1e1e8c" stroke="#fff" stroke-width="0.5"><tspan x="1435.05" y="918.00" font-size="54.00" textLength="28.10" lengthAdjust="spacingAndGlyphs">o</tspan><tspan x="1469.42" y="918.00" font-size="63.00" textLength="42.46" lengthAdjust="spacingAndGlyphs">&amp;</tspan><tspan x="1519.96" y="918.00" font-size="54.00" textLength="25.91" lengthAdjust="spacingAndGlyphs">c</tspan></text>
<text font-family="Liberation Serif, serif" fill="#1e1e8c" stroke="#fff" stroke-width="0.5"><tspan x="782.95" y="985.80" font-size="54.00" textLength="28.10" lengthAdjust="spacingAndGlyphs">o</tspan><tspan x="817.32" y="985.80" font-size="63.00" textLength="42.46" lengthAdjust="spacingAndGlyphs">&amp;</tspan><tspan x="867.86" y="985.80" font-size="54.00" textLength="25.91" lengthAdjust="spacingAndGlyphs">c</tspan></text>
<text font-family="Liberation Serif, serif" fill="#1e1e8c" stroke="#fff" stroke-width="0.5"><tspan x="1200.95" y="997.80" font-size="54.00" textLength="28.10" lengthAdjust="spacingAndGlyphs">o</tspan><tspan x="1235.32" y="997.80" font-size="63.00" textLength="42.46" lengthAdjust="spacingAndGlyphs">&amp;</tspan><tspan x="1285.86" y="997.80" font-size="54.00" textLength="25.91" lengthAdjust="spacingAndGlyphs">c</tspan></text>
<text font-family="Liberation Serif, serif" fill="#1e1e8c" stroke="#fff" stroke-width="0.5"><tspan x="533.23" y="866.20" font-size="56.50" textLength="72.34" lengthAdjust="spacingAndGlyphs">AP</tspan></text>
<text font-family="Liberation Serif, serif" fill="#1e1e8c" stroke="#fff" stroke-width="0.5"><tspan x="746.95" y="861.00" font-size="56.00" textLength="70.05" lengthAdjust="spacingAndGlyphs">AP</tspan></text>
<text font-family="Liberation Serif, serif" fill="#1e1e8c" stroke="#fff" stroke-width="0.5"><tspan x="573.71" y="948.60" font-size="56.50" textLength="69.96" lengthAdjust="spacingAndGlyphs">CP</tspan></text>
<text font-family="Liberation Serif, serif" fill="#1e1e8c" stroke="#fff" stroke-width="0.5"><tspan x="1058.51" y="956.60" font-size="56.00" textLength="33.39" lengthAdjust="spacingAndGlyphs">T</tspan></text>
<text font-family="Liberation Serif, serif" fill="#1e1e8c" stroke="#fff" stroke-width="0.5"><tspan x="719.45" y="1033.00" font-size="57.00" textLength="39.57" lengthAdjust="spacingAndGlyphs">A</tspan></text>
<text font-family="Liberation Serif, serif" fill="#1e1e8c" stroke="#fff" stroke-width="0.5"><tspan x="398.97" y="1010.30" font-size="53.00" textLength="29.17" lengthAdjust="spacingAndGlyphs">o</tspan></text>
<text font-family="Liberation Serif, serif" fill="#1e1e8c" stroke="#fff" stroke-width="0.5"><tspan x="509.22" y="1041.00" font-size="53.00" textLength="29.76" lengthAdjust="spacingAndGlyphs">o</tspan></text>
<text font-family="Liberation Serif, serif" fill="#1e1e8c" stroke="#fff" stroke-width="0.5"><tspan x="865.10" y="1047.50" font-size="53.00" textLength="28.81" lengthAdjust="spacingAndGlyphs">o</tspan></text>
<text font-family="Liberation Serif, serif" fill="#1e1e8c" stroke="#fff" stroke-width="0.5"><tspan x="932.39" y="1050.20" font-size="53.00" textLength="28.93" lengthAdjust="spacingAndGlyphs">o</tspan></text>
<text font-family="Liberation Serif, serif" fill="#1e1e8c" stroke="#fff" stroke-width="0.5"><tspan x="1391.71" y="1041.20" font-size="53.00" textLength="28.57" lengthAdjust="spacingAndGlyphs">o</tspan></text>
<line x1="470.8" y1="777.5" x2="470.8" y2="1024" stroke="#c4c4c4" stroke-width="1.6"/>
<polygon points="464.1,1023.0 477.5,1023.0 477.0,1032.5 474.2,1040.0 471.4,1048.0 470.2,1048.0 467.4,1040.0 464.6,1032.5" fill="#000"/>
<line x1="563.8" y1="884.5" x2="563.8" y2="1055" stroke="#000" stroke-width="2.6"/>
<line x1="563.8" y1="1023" x2="563.8" y2="1055" stroke="#000" stroke-width="2.4"/>
<polygon points="557.1,1023.0 570.5,1023.0 570.0,1031.0 567.2,1037.3 564.4,1044.0 563.2,1044.0 560.4,1037.3 557.6,1031.0" fill="#000"/>
<line x1="604.2" y1="961" x2="604.2" y2="1054" stroke="#000" stroke-width="2.6"/>
<line x1="604.2" y1="1023" x2="604.2" y2="1054" stroke="#000" stroke-width="2.4"/>
<polygon points="597.5,1023.0 610.9,1023.0 610.4,1031.0 607.6,1037.3 604.8,1044.0 603.6,1044.0 600.8,1037.3 598.0,1031.0" fill="#000"/>
<line x1="773.5" y1="881.3" x2="773.5" y2="1021" stroke="#8a8a8a" stroke-width="1.8"/>
<polygon points="766.8,1020.0 780.2,1020.0 779.7,1029.7 776.9,1037.3 774.1,1045.5 772.9,1045.5 770.1,1037.3 767.3,1029.7" fill="#000"/>
<line x1="990.0" y1="963.4" x2="990.0" y2="964.4" stroke="#000" stroke-width="2.4"/>
<polygon points="983.3,963.4 996.7,963.4 996.2,972.7 993.4,980.1 990.6,988.0 989.4,988.0 986.6,980.1 983.8,972.7" fill="#000"/>
<line x1="1370.8" y1="800" x2="1370.8" y2="1011" stroke="#a0a0a0" stroke-width="1.6"/>
<polygon points="1364.1,1010.0 1377.5,1010.0 1377.0,1018.9 1374.2,1026.0 1371.4,1033.5 1370.2,1033.5 1367.4,1026.0 1364.6,1018.9" fill="#000"/>
<line x1="1081" y1="969" x2="1093" y2="1003" stroke="#000" stroke-width="2.2" stroke-dasharray="4 3.5"/>
<polygon points="1087.5,1002 1099,997.5 1103.3,1032.7" fill="#000"/>
</svg>
</div>
</body></html>
